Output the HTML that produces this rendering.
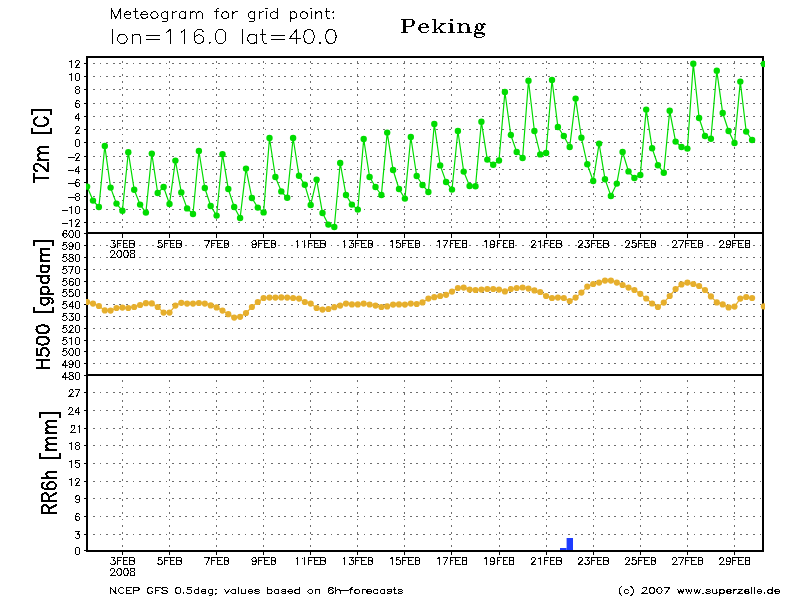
<!DOCTYPE html>
<html><head><meta charset="utf-8"><title>Meteogram Peking</title>
<style>html,body{margin:0;padding:0;background:#fff;font-family:"Liberation Sans",sans-serif}svg{display:block}</style></head>
<body>
<svg width="800" height="600" viewBox="0 0 800 600">
<rect width="800" height="600" fill="#fff"/>
<g stroke="#6e6e6e" stroke-width="1" stroke-dasharray="1.7 4.9" fill="none" shape-rendering="crispEdges">
<line x1="93" x2="762" y1="222.5" y2="222.5"/>
<line x1="93" x2="762" y1="209.5" y2="209.5"/>
<line x1="93" x2="762" y1="196.5" y2="196.5"/>
<line x1="93" x2="762" y1="182.5" y2="182.5"/>
<line x1="93" x2="762" y1="169.5" y2="169.5"/>
<line x1="93" x2="762" y1="156.5" y2="156.5"/>
<line x1="93" x2="762" y1="142.5" y2="142.5"/>
<line x1="93" x2="762" y1="129.5" y2="129.5"/>
<line x1="93" x2="762" y1="116.5" y2="116.5"/>
<line x1="93" x2="762" y1="103.5" y2="103.5"/>
<line x1="93" x2="762" y1="89.5" y2="89.5"/>
<line x1="93" x2="762" y1="76.5" y2="76.5"/>
<line x1="93" x2="762" y1="63.5" y2="63.5"/>
<line x1="93" x2="762" y1="363.5" y2="363.5"/>
<line x1="93" x2="762" y1="351.5" y2="351.5"/>
<line x1="93" x2="762" y1="340.5" y2="340.5"/>
<line x1="93" x2="762" y1="328.5" y2="328.5"/>
<line x1="93" x2="762" y1="316.5" y2="316.5"/>
<line x1="93" x2="762" y1="304.5" y2="304.5"/>
<line x1="93" x2="762" y1="292.5" y2="292.5"/>
<line x1="93" x2="762" y1="281.5" y2="281.5"/>
<line x1="93" x2="762" y1="269.5" y2="269.5"/>
<line x1="93" x2="762" y1="257.5" y2="257.5"/>
<line x1="93" x2="762" y1="245.5" y2="245.5"/>
<line x1="93" x2="762" y1="534.5" y2="534.5"/>
<line x1="93" x2="762" y1="516.5" y2="516.5"/>
<line x1="93" x2="762" y1="498.5" y2="498.5"/>
<line x1="93" x2="762" y1="481.5" y2="481.5"/>
<line x1="93" x2="762" y1="463.5" y2="463.5"/>
<line x1="93" x2="762" y1="445.5" y2="445.5"/>
<line x1="93" x2="762" y1="428.5" y2="428.5"/>
<line x1="93" x2="762" y1="410.5" y2="410.5"/>
<line x1="93" x2="762" y1="392.5" y2="392.5"/>
<line x1="122.5" x2="122.5" y1="61" y2="232"/>
<line x1="122.5" x2="122.5" y1="380" y2="549.5"/>
<line x1="169.5" x2="169.5" y1="61" y2="232"/>
<line x1="169.5" x2="169.5" y1="380" y2="549.5"/>
<line x1="216.5" x2="216.5" y1="61" y2="232"/>
<line x1="216.5" x2="216.5" y1="380" y2="549.5"/>
<line x1="263.5" x2="263.5" y1="61" y2="232"/>
<line x1="263.5" x2="263.5" y1="380" y2="549.5"/>
<line x1="310.5" x2="310.5" y1="61" y2="232"/>
<line x1="310.5" x2="310.5" y1="380" y2="549.5"/>
<line x1="357.5" x2="357.5" y1="61" y2="232"/>
<line x1="357.5" x2="357.5" y1="380" y2="549.5"/>
<line x1="404.5" x2="404.5" y1="61" y2="232"/>
<line x1="404.5" x2="404.5" y1="380" y2="549.5"/>
<line x1="451.5" x2="451.5" y1="61" y2="232"/>
<line x1="451.5" x2="451.5" y1="380" y2="549.5"/>
<line x1="499.5" x2="499.5" y1="61" y2="232"/>
<line x1="499.5" x2="499.5" y1="380" y2="549.5"/>
<line x1="546.5" x2="546.5" y1="61" y2="232"/>
<line x1="546.5" x2="546.5" y1="380" y2="549.5"/>
<line x1="593.5" x2="593.5" y1="61" y2="232"/>
<line x1="593.5" x2="593.5" y1="380" y2="549.5"/>
<line x1="640.5" x2="640.5" y1="61" y2="232"/>
<line x1="640.5" x2="640.5" y1="380" y2="549.5"/>
<line x1="687.5" x2="687.5" y1="61" y2="232"/>
<line x1="687.5" x2="687.5" y1="380" y2="549.5"/>
<line x1="734.5" x2="734.5" y1="61" y2="232"/>
<line x1="734.5" x2="734.5" y1="380" y2="549.5"/>
</g>
<rect x="560" y="548" width="6.6" height="2.5" fill="#1e3cff"/>
<rect x="566.6" y="538" width="6.4" height="12.5" fill="#1e3cff"/>
<g stroke="#000" stroke-width="2" fill="none" shape-rendering="crispEdges">
<rect x="87" y="57" width="676" height="493.5"/>
<line x1="87" x2="763" y1="233" y2="233"/>
<line x1="87" x2="763" y1="375" y2="375"/>
</g>
<clipPath id="cp"><rect x="86" y="56" width="679" height="496"/></clipPath>
<g clip-path="url(#cp)">
<polyline fill="none" stroke="#00dc00" stroke-width="1.2" points="87.1,186.6 93.0,200.6 98.9,207.0 104.8,146.0 110.6,187.6 116.5,203.6 122.4,210.8 128.3,152.2 134.2,189.8 140.1,204.6 145.9,212.6 151.8,153.6 157.7,193.0 163.6,187.0 169.5,204.0 175.4,160.6 181.3,192.4 187.1,208.4 193.0,214.0 198.9,151.0 204.8,188.0 210.7,206.0 216.6,215.6 222.5,154.2 228.3,189.0 234.2,207.0 240.1,218.0 246.0,168.6 251.9,198.0 257.8,207.6 263.6,212.4 269.5,138.0 275.4,177.0 281.3,191.4 287.2,197.8 293.1,138.0 299.0,175.8 304.8,184.8 310.7,205.0 316.6,179.6 322.5,213.0 328.4,224.6 334.3,227.0 340.2,163.0 346.0,195.0 351.9,204.6 357.8,209.6 363.7,139.0 369.6,177.0 375.5,187.0 381.4,195.0 387.2,132.6 393.1,170.0 399.0,189.0 404.9,198.6 410.8,137.0 416.7,176.0 422.5,185.0 428.4,192.0 434.3,124.0 440.2,165.4 446.1,182.0 452.0,189.6 457.9,131.0 463.7,171.6 469.6,186.0 475.5,186.2 481.4,121.8 487.3,159.6 493.2,164.8 499.0,160.5 504.9,92.0 510.8,135.0 516.7,152.0 522.6,158.0 528.5,80.8 534.4,131.0 540.2,154.4 546.1,153.0 552.0,80.0 557.9,127.0 563.8,136.0 569.7,147.0 575.6,98.6 581.4,137.8 587.3,164.3 593.2,181.0 599.1,143.6 605.0,179.2 610.9,196.0 616.8,183.6 622.6,152.0 628.5,171.4 634.4,178.0 640.3,175.0 646.2,109.6 652.1,148.2 657.9,165.2 663.8,172.8 669.7,110.8 675.6,141.6 681.5,147.0 687.4,148.6 693.3,63.8 699.1,118.0 705.0,136.0 710.9,138.8 716.8,70.8 722.7,113.0 728.6,131.0 734.5,143.0 740.3,81.6 746.2,131.6 752.1,140.0"/>
<g fill="#00dc00">
<circle cx="87.1" cy="186.6" r="3.2"/>
<circle cx="93.0" cy="200.6" r="3.2"/>
<circle cx="98.9" cy="207.0" r="3.2"/>
<circle cx="104.8" cy="146.0" r="3.2"/>
<circle cx="110.6" cy="187.6" r="3.2"/>
<circle cx="116.5" cy="203.6" r="3.2"/>
<circle cx="122.4" cy="210.8" r="3.2"/>
<circle cx="128.3" cy="152.2" r="3.2"/>
<circle cx="134.2" cy="189.8" r="3.2"/>
<circle cx="140.1" cy="204.6" r="3.2"/>
<circle cx="145.9" cy="212.6" r="3.2"/>
<circle cx="151.8" cy="153.6" r="3.2"/>
<circle cx="157.7" cy="193.0" r="3.2"/>
<circle cx="163.6" cy="187.0" r="3.2"/>
<circle cx="169.5" cy="204.0" r="3.2"/>
<circle cx="175.4" cy="160.6" r="3.2"/>
<circle cx="181.3" cy="192.4" r="3.2"/>
<circle cx="187.1" cy="208.4" r="3.2"/>
<circle cx="193.0" cy="214.0" r="3.2"/>
<circle cx="198.9" cy="151.0" r="3.2"/>
<circle cx="204.8" cy="188.0" r="3.2"/>
<circle cx="210.7" cy="206.0" r="3.2"/>
<circle cx="216.6" cy="215.6" r="3.2"/>
<circle cx="222.5" cy="154.2" r="3.2"/>
<circle cx="228.3" cy="189.0" r="3.2"/>
<circle cx="234.2" cy="207.0" r="3.2"/>
<circle cx="240.1" cy="218.0" r="3.2"/>
<circle cx="246.0" cy="168.6" r="3.2"/>
<circle cx="251.9" cy="198.0" r="3.2"/>
<circle cx="257.8" cy="207.6" r="3.2"/>
<circle cx="263.6" cy="212.4" r="3.2"/>
<circle cx="269.5" cy="138.0" r="3.2"/>
<circle cx="275.4" cy="177.0" r="3.2"/>
<circle cx="281.3" cy="191.4" r="3.2"/>
<circle cx="287.2" cy="197.8" r="3.2"/>
<circle cx="293.1" cy="138.0" r="3.2"/>
<circle cx="299.0" cy="175.8" r="3.2"/>
<circle cx="304.8" cy="184.8" r="3.2"/>
<circle cx="310.7" cy="205.0" r="3.2"/>
<circle cx="316.6" cy="179.6" r="3.2"/>
<circle cx="322.5" cy="213.0" r="3.2"/>
<circle cx="328.4" cy="224.6" r="3.2"/>
<circle cx="334.3" cy="227.0" r="3.2"/>
<circle cx="340.2" cy="163.0" r="3.2"/>
<circle cx="346.0" cy="195.0" r="3.2"/>
<circle cx="351.9" cy="204.6" r="3.2"/>
<circle cx="357.8" cy="209.6" r="3.2"/>
<circle cx="363.7" cy="139.0" r="3.2"/>
<circle cx="369.6" cy="177.0" r="3.2"/>
<circle cx="375.5" cy="187.0" r="3.2"/>
<circle cx="381.4" cy="195.0" r="3.2"/>
<circle cx="387.2" cy="132.6" r="3.2"/>
<circle cx="393.1" cy="170.0" r="3.2"/>
<circle cx="399.0" cy="189.0" r="3.2"/>
<circle cx="404.9" cy="198.6" r="3.2"/>
<circle cx="410.8" cy="137.0" r="3.2"/>
<circle cx="416.7" cy="176.0" r="3.2"/>
<circle cx="422.5" cy="185.0" r="3.2"/>
<circle cx="428.4" cy="192.0" r="3.2"/>
<circle cx="434.3" cy="124.0" r="3.2"/>
<circle cx="440.2" cy="165.4" r="3.2"/>
<circle cx="446.1" cy="182.0" r="3.2"/>
<circle cx="452.0" cy="189.6" r="3.2"/>
<circle cx="457.9" cy="131.0" r="3.2"/>
<circle cx="463.7" cy="171.6" r="3.2"/>
<circle cx="469.6" cy="186.0" r="3.2"/>
<circle cx="475.5" cy="186.2" r="3.2"/>
<circle cx="481.4" cy="121.8" r="3.2"/>
<circle cx="487.3" cy="159.6" r="3.2"/>
<circle cx="493.2" cy="164.8" r="3.2"/>
<circle cx="499.0" cy="160.5" r="3.2"/>
<circle cx="504.9" cy="92.0" r="3.2"/>
<circle cx="510.8" cy="135.0" r="3.2"/>
<circle cx="516.7" cy="152.0" r="3.2"/>
<circle cx="522.6" cy="158.0" r="3.2"/>
<circle cx="528.5" cy="80.8" r="3.2"/>
<circle cx="534.4" cy="131.0" r="3.2"/>
<circle cx="540.2" cy="154.4" r="3.2"/>
<circle cx="546.1" cy="153.0" r="3.2"/>
<circle cx="552.0" cy="80.0" r="3.2"/>
<circle cx="557.9" cy="127.0" r="3.2"/>
<circle cx="563.8" cy="136.0" r="3.2"/>
<circle cx="569.7" cy="147.0" r="3.2"/>
<circle cx="575.6" cy="98.6" r="3.2"/>
<circle cx="581.4" cy="137.8" r="3.2"/>
<circle cx="587.3" cy="164.3" r="3.2"/>
<circle cx="593.2" cy="181.0" r="3.2"/>
<circle cx="599.1" cy="143.6" r="3.2"/>
<circle cx="605.0" cy="179.2" r="3.2"/>
<circle cx="610.9" cy="196.0" r="3.2"/>
<circle cx="616.8" cy="183.6" r="3.2"/>
<circle cx="622.6" cy="152.0" r="3.2"/>
<circle cx="628.5" cy="171.4" r="3.2"/>
<circle cx="634.4" cy="178.0" r="3.2"/>
<circle cx="640.3" cy="175.0" r="3.2"/>
<circle cx="646.2" cy="109.6" r="3.2"/>
<circle cx="652.1" cy="148.2" r="3.2"/>
<circle cx="657.9" cy="165.2" r="3.2"/>
<circle cx="663.8" cy="172.8" r="3.2"/>
<circle cx="669.7" cy="110.8" r="3.2"/>
<circle cx="675.6" cy="141.6" r="3.2"/>
<circle cx="681.5" cy="147.0" r="3.2"/>
<circle cx="687.4" cy="148.6" r="3.2"/>
<circle cx="693.3" cy="63.8" r="3.2"/>
<circle cx="699.1" cy="118.0" r="3.2"/>
<circle cx="705.0" cy="136.0" r="3.2"/>
<circle cx="710.9" cy="138.8" r="3.2"/>
<circle cx="716.8" cy="70.8" r="3.2"/>
<circle cx="722.7" cy="113.0" r="3.2"/>
<circle cx="728.6" cy="131.0" r="3.2"/>
<circle cx="734.5" cy="143.0" r="3.2"/>
<circle cx="740.3" cy="81.6" r="3.2"/>
<circle cx="746.2" cy="131.6" r="3.2"/>
<circle cx="752.1" cy="140.0" r="3.2"/>
<circle cx="763.9" cy="64.0" r="3.2"/>
</g>
<polyline fill="none" stroke="#e6af2d" stroke-width="1.2" points="87.1,302.0 93.0,303.6 98.9,306.0 104.8,310.4 110.6,310.6 116.5,308.0 122.4,307.6 128.3,308.0 134.2,307.0 140.1,305.0 145.9,303.2 151.8,303.4 157.7,307.0 163.6,312.6 169.5,312.6 175.4,305.6 181.3,302.8 187.1,303.6 193.0,303.6 198.9,303.0 204.8,303.6 210.7,305.4 216.6,307.4 222.5,310.6 228.3,314.2 234.2,317.6 240.1,316.8 246.0,313.0 251.9,307.0 257.8,302.0 263.6,298.0 269.5,297.6 275.4,297.6 281.3,297.4 287.2,297.6 293.1,298.0 299.0,298.6 304.8,302.0 310.7,303.6 316.6,308.0 322.5,309.6 328.4,309.0 334.3,307.2 340.2,305.6 346.0,303.6 351.9,304.4 357.8,304.4 363.7,303.6 369.6,304.5 375.5,305.6 381.4,307.0 387.2,306.4 393.1,304.6 399.0,304.4 404.9,304.6 410.8,303.6 416.7,304.0 422.5,302.4 428.4,298.6 434.3,297.2 440.2,296.0 446.1,294.8 452.0,291.6 457.9,288.0 463.7,287.6 469.6,289.6 475.5,290.0 481.4,289.6 487.3,289.0 493.2,289.0 499.0,289.6 504.9,291.4 510.8,289.0 516.7,288.0 522.6,287.5 528.5,288.6 534.4,290.4 540.2,292.0 546.1,296.0 552.0,298.0 557.9,297.6 563.8,298.0 569.7,301.0 575.6,297.6 581.4,292.6 587.3,286.6 593.2,284.0 599.1,282.6 605.0,280.6 610.9,280.6 616.8,282.6 622.6,285.0 628.5,287.6 634.4,290.0 640.3,293.8 646.2,298.5 652.1,303.5 657.9,307.0 663.8,302.6 669.7,296.0 675.6,289.0 681.5,284.4 687.4,282.6 693.3,284.0 699.1,286.0 705.0,290.0 710.9,296.4 716.8,302.4 722.7,304.4 728.6,307.4 734.5,306.6 740.3,298.6 746.2,297.0 752.1,298.0"/>
<g fill="#e6af2d">
<circle cx="87.1" cy="302.0" r="3.1"/>
<circle cx="93.0" cy="303.6" r="3.1"/>
<circle cx="98.9" cy="306.0" r="3.1"/>
<circle cx="104.8" cy="310.4" r="3.1"/>
<circle cx="110.6" cy="310.6" r="3.1"/>
<circle cx="116.5" cy="308.0" r="3.1"/>
<circle cx="122.4" cy="307.6" r="3.1"/>
<circle cx="128.3" cy="308.0" r="3.1"/>
<circle cx="134.2" cy="307.0" r="3.1"/>
<circle cx="140.1" cy="305.0" r="3.1"/>
<circle cx="145.9" cy="303.2" r="3.1"/>
<circle cx="151.8" cy="303.4" r="3.1"/>
<circle cx="157.7" cy="307.0" r="3.1"/>
<circle cx="163.6" cy="312.6" r="3.1"/>
<circle cx="169.5" cy="312.6" r="3.1"/>
<circle cx="175.4" cy="305.6" r="3.1"/>
<circle cx="181.3" cy="302.8" r="3.1"/>
<circle cx="187.1" cy="303.6" r="3.1"/>
<circle cx="193.0" cy="303.6" r="3.1"/>
<circle cx="198.9" cy="303.0" r="3.1"/>
<circle cx="204.8" cy="303.6" r="3.1"/>
<circle cx="210.7" cy="305.4" r="3.1"/>
<circle cx="216.6" cy="307.4" r="3.1"/>
<circle cx="222.5" cy="310.6" r="3.1"/>
<circle cx="228.3" cy="314.2" r="3.1"/>
<circle cx="234.2" cy="317.6" r="3.1"/>
<circle cx="240.1" cy="316.8" r="3.1"/>
<circle cx="246.0" cy="313.0" r="3.1"/>
<circle cx="251.9" cy="307.0" r="3.1"/>
<circle cx="257.8" cy="302.0" r="3.1"/>
<circle cx="263.6" cy="298.0" r="3.1"/>
<circle cx="269.5" cy="297.6" r="3.1"/>
<circle cx="275.4" cy="297.6" r="3.1"/>
<circle cx="281.3" cy="297.4" r="3.1"/>
<circle cx="287.2" cy="297.6" r="3.1"/>
<circle cx="293.1" cy="298.0" r="3.1"/>
<circle cx="299.0" cy="298.6" r="3.1"/>
<circle cx="304.8" cy="302.0" r="3.1"/>
<circle cx="310.7" cy="303.6" r="3.1"/>
<circle cx="316.6" cy="308.0" r="3.1"/>
<circle cx="322.5" cy="309.6" r="3.1"/>
<circle cx="328.4" cy="309.0" r="3.1"/>
<circle cx="334.3" cy="307.2" r="3.1"/>
<circle cx="340.2" cy="305.6" r="3.1"/>
<circle cx="346.0" cy="303.6" r="3.1"/>
<circle cx="351.9" cy="304.4" r="3.1"/>
<circle cx="357.8" cy="304.4" r="3.1"/>
<circle cx="363.7" cy="303.6" r="3.1"/>
<circle cx="369.6" cy="304.5" r="3.1"/>
<circle cx="375.5" cy="305.6" r="3.1"/>
<circle cx="381.4" cy="307.0" r="3.1"/>
<circle cx="387.2" cy="306.4" r="3.1"/>
<circle cx="393.1" cy="304.6" r="3.1"/>
<circle cx="399.0" cy="304.4" r="3.1"/>
<circle cx="404.9" cy="304.6" r="3.1"/>
<circle cx="410.8" cy="303.6" r="3.1"/>
<circle cx="416.7" cy="304.0" r="3.1"/>
<circle cx="422.5" cy="302.4" r="3.1"/>
<circle cx="428.4" cy="298.6" r="3.1"/>
<circle cx="434.3" cy="297.2" r="3.1"/>
<circle cx="440.2" cy="296.0" r="3.1"/>
<circle cx="446.1" cy="294.8" r="3.1"/>
<circle cx="452.0" cy="291.6" r="3.1"/>
<circle cx="457.9" cy="288.0" r="3.1"/>
<circle cx="463.7" cy="287.6" r="3.1"/>
<circle cx="469.6" cy="289.6" r="3.1"/>
<circle cx="475.5" cy="290.0" r="3.1"/>
<circle cx="481.4" cy="289.6" r="3.1"/>
<circle cx="487.3" cy="289.0" r="3.1"/>
<circle cx="493.2" cy="289.0" r="3.1"/>
<circle cx="499.0" cy="289.6" r="3.1"/>
<circle cx="504.9" cy="291.4" r="3.1"/>
<circle cx="510.8" cy="289.0" r="3.1"/>
<circle cx="516.7" cy="288.0" r="3.1"/>
<circle cx="522.6" cy="287.5" r="3.1"/>
<circle cx="528.5" cy="288.6" r="3.1"/>
<circle cx="534.4" cy="290.4" r="3.1"/>
<circle cx="540.2" cy="292.0" r="3.1"/>
<circle cx="546.1" cy="296.0" r="3.1"/>
<circle cx="552.0" cy="298.0" r="3.1"/>
<circle cx="557.9" cy="297.6" r="3.1"/>
<circle cx="563.8" cy="298.0" r="3.1"/>
<circle cx="569.7" cy="301.0" r="3.1"/>
<circle cx="575.6" cy="297.6" r="3.1"/>
<circle cx="581.4" cy="292.6" r="3.1"/>
<circle cx="587.3" cy="286.6" r="3.1"/>
<circle cx="593.2" cy="284.0" r="3.1"/>
<circle cx="599.1" cy="282.6" r="3.1"/>
<circle cx="605.0" cy="280.6" r="3.1"/>
<circle cx="610.9" cy="280.6" r="3.1"/>
<circle cx="616.8" cy="282.6" r="3.1"/>
<circle cx="622.6" cy="285.0" r="3.1"/>
<circle cx="628.5" cy="287.6" r="3.1"/>
<circle cx="634.4" cy="290.0" r="3.1"/>
<circle cx="640.3" cy="293.8" r="3.1"/>
<circle cx="646.2" cy="298.5" r="3.1"/>
<circle cx="652.1" cy="303.5" r="3.1"/>
<circle cx="657.9" cy="307.0" r="3.1"/>
<circle cx="663.8" cy="302.6" r="3.1"/>
<circle cx="669.7" cy="296.0" r="3.1"/>
<circle cx="675.6" cy="289.0" r="3.1"/>
<circle cx="681.5" cy="284.4" r="3.1"/>
<circle cx="687.4" cy="282.6" r="3.1"/>
<circle cx="693.3" cy="284.0" r="3.1"/>
<circle cx="699.1" cy="286.0" r="3.1"/>
<circle cx="705.0" cy="290.0" r="3.1"/>
<circle cx="710.9" cy="296.4" r="3.1"/>
<circle cx="716.8" cy="302.4" r="3.1"/>
<circle cx="722.7" cy="304.4" r="3.1"/>
<circle cx="728.6" cy="307.4" r="3.1"/>
<circle cx="734.5" cy="306.6" r="3.1"/>
<circle cx="740.3" cy="298.6" r="3.1"/>
<circle cx="746.2" cy="297.0" r="3.1"/>
<circle cx="752.1" cy="298.0" r="3.1"/>
<circle cx="763.9" cy="306.4" r="3.1"/>
</g>
</g>
<g stroke="#000" stroke-width="1" shape-rendering="crispEdges">
<line x1="84" x2="86" y1="222.5" y2="222.5"/>
<line x1="84" x2="86" y1="209.5" y2="209.5"/>
<line x1="84" x2="86" y1="196.5" y2="196.5"/>
<line x1="84" x2="86" y1="182.5" y2="182.5"/>
<line x1="84" x2="86" y1="169.5" y2="169.5"/>
<line x1="84" x2="86" y1="156.5" y2="156.5"/>
<line x1="84" x2="86" y1="142.5" y2="142.5"/>
<line x1="84" x2="86" y1="129.5" y2="129.5"/>
<line x1="84" x2="86" y1="116.5" y2="116.5"/>
<line x1="84" x2="86" y1="103.5" y2="103.5"/>
<line x1="84" x2="86" y1="89.5" y2="89.5"/>
<line x1="84" x2="86" y1="76.5" y2="76.5"/>
<line x1="84" x2="86" y1="63.5" y2="63.5"/>
<line x1="84" x2="86" y1="375.5" y2="375.5"/>
<line x1="84" x2="86" y1="363.5" y2="363.5"/>
<line x1="84" x2="86" y1="351.5" y2="351.5"/>
<line x1="84" x2="86" y1="340.5" y2="340.5"/>
<line x1="84" x2="86" y1="328.5" y2="328.5"/>
<line x1="84" x2="86" y1="316.5" y2="316.5"/>
<line x1="84" x2="86" y1="304.5" y2="304.5"/>
<line x1="84" x2="86" y1="292.5" y2="292.5"/>
<line x1="84" x2="86" y1="281.5" y2="281.5"/>
<line x1="84" x2="86" y1="269.5" y2="269.5"/>
<line x1="84" x2="86" y1="257.5" y2="257.5"/>
<line x1="84" x2="86" y1="245.5" y2="245.5"/>
<line x1="84" x2="86" y1="233.5" y2="233.5"/>
<line x1="84" x2="86" y1="550.5" y2="550.5"/>
<line x1="84" x2="86" y1="534.5" y2="534.5"/>
<line x1="84" x2="86" y1="516.5" y2="516.5"/>
<line x1="84" x2="86" y1="498.5" y2="498.5"/>
<line x1="84" x2="86" y1="481.5" y2="481.5"/>
<line x1="84" x2="86" y1="463.5" y2="463.5"/>
<line x1="84" x2="86" y1="445.5" y2="445.5"/>
<line x1="84" x2="86" y1="428.5" y2="428.5"/>
<line x1="84" x2="86" y1="410.5" y2="410.5"/>
<line x1="84" x2="86" y1="392.5" y2="392.5"/>
<line x1="122.5" x2="122.5" y1="234" y2="238"/>
<line x1="122.5" x2="122.5" y1="551.5" y2="555.0"/>
<line x1="169.5" x2="169.5" y1="234" y2="238"/>
<line x1="169.5" x2="169.5" y1="551.5" y2="555.0"/>
<line x1="216.5" x2="216.5" y1="234" y2="238"/>
<line x1="216.5" x2="216.5" y1="551.5" y2="555.0"/>
<line x1="263.5" x2="263.5" y1="234" y2="238"/>
<line x1="263.5" x2="263.5" y1="551.5" y2="555.0"/>
<line x1="310.5" x2="310.5" y1="234" y2="238"/>
<line x1="310.5" x2="310.5" y1="551.5" y2="555.0"/>
<line x1="357.5" x2="357.5" y1="234" y2="238"/>
<line x1="357.5" x2="357.5" y1="551.5" y2="555.0"/>
<line x1="404.5" x2="404.5" y1="234" y2="238"/>
<line x1="404.5" x2="404.5" y1="551.5" y2="555.0"/>
<line x1="451.5" x2="451.5" y1="234" y2="238"/>
<line x1="451.5" x2="451.5" y1="551.5" y2="555.0"/>
<line x1="499.5" x2="499.5" y1="234" y2="238"/>
<line x1="499.5" x2="499.5" y1="551.5" y2="555.0"/>
<line x1="546.5" x2="546.5" y1="234" y2="238"/>
<line x1="546.5" x2="546.5" y1="551.5" y2="555.0"/>
<line x1="593.5" x2="593.5" y1="234" y2="238"/>
<line x1="593.5" x2="593.5" y1="551.5" y2="555.0"/>
<line x1="640.5" x2="640.5" y1="234" y2="238"/>
<line x1="640.5" x2="640.5" y1="551.5" y2="555.0"/>
<line x1="687.5" x2="687.5" y1="234" y2="238"/>
<line x1="687.5" x2="687.5" y1="551.5" y2="555.0"/>
<line x1="734.5" x2="734.5" y1="234" y2="238"/>
<line x1="734.5" x2="734.5" y1="551.5" y2="555.0"/>
</g>
<path transform="translate(79.70,226.50) translate(-18.01,0)" d="M0.32 -3.00L6.00 -3.00M8.22 -5.67L8.85 -6.00L9.80 -7.00L9.80 0.00M13.90 -5.33L13.90 -5.67L14.22 -6.33L14.54 -6.67L15.17 -7.00L16.43 -7.00L17.06 -6.67L17.38 -6.33L17.70 -5.67L17.70 -5.00L17.38 -4.33L16.75 -3.33L13.59 0.00L18.01 0.00" fill="none" stroke="#000" stroke-width="1.0" stroke-linecap="square" stroke-linejoin="round" shape-rendering="crispEdges" />
<path transform="translate(79.70,213.50) translate(-18.01,0)" d="M0.32 -3.00L6.00 -3.00M8.22 -5.67L8.85 -6.00L9.80 -7.00L9.80 0.00M15.48 -7.00L14.54 -6.67L13.90 -5.67L13.59 -4.00L13.59 -3.00L13.90 -1.33L14.54 -0.33L15.48 0.00L16.12 0.00L17.06 -0.33L17.70 -1.33L18.01 -3.00L18.01 -4.00L17.70 -5.67L17.06 -6.67L16.12 -7.00L15.48 -7.00" fill="none" stroke="#000" stroke-width="1.0" stroke-linecap="square" stroke-linejoin="round" shape-rendering="crispEdges" />
<path transform="translate(79.70,200.50) translate(-11.69,0)" d="M0.32 -3.00L6.00 -3.00M8.85 -7.00L7.90 -6.67L7.58 -6.00L7.58 -5.33L7.90 -4.67L8.53 -4.33L9.80 -4.00L10.74 -3.67L11.38 -3.00L11.69 -2.33L11.69 -1.33L11.38 -0.67L11.06 -0.33L10.11 0.00L8.85 0.00L7.90 -0.33L7.58 -0.67L7.27 -1.33L7.27 -2.33L7.58 -3.00L8.22 -3.67L9.16 -4.00L10.43 -4.33L11.06 -4.67L11.38 -5.33L11.38 -6.00L11.06 -6.67L10.11 -7.00L8.85 -7.00" fill="none" stroke="#000" stroke-width="1.0" stroke-linecap="square" stroke-linejoin="round" shape-rendering="crispEdges" />
<path transform="translate(79.70,186.50) translate(-11.69,0)" d="M0.32 -3.00L6.00 -3.00M11.38 -6.00L11.06 -6.67L10.11 -7.00L9.48 -7.00L8.53 -6.67L7.90 -5.67L7.58 -4.00L7.58 -2.33L7.90 -1.00L8.53 -0.33L9.48 0.00L9.80 0.00L10.74 -0.33L11.38 -1.00L11.69 -2.00L11.69 -2.33L11.38 -3.33L10.74 -4.00L9.80 -4.33L9.48 -4.33L8.53 -4.00L7.90 -3.33L7.58 -2.33" fill="none" stroke="#000" stroke-width="1.0" stroke-linecap="square" stroke-linejoin="round" shape-rendering="crispEdges" />
<path transform="translate(79.70,173.50) translate(-12.01,0)" d="M0.32 -3.00L6.00 -3.00M10.43 -7.00L7.27 -2.33L12.01 -2.33M10.43 -7.00L10.43 0.00" fill="none" stroke="#000" stroke-width="1.0" stroke-linecap="square" stroke-linejoin="round" shape-rendering="crispEdges" />
<path transform="translate(79.70,160.50) translate(-11.69,0)" d="M0.32 -3.00L6.00 -3.00M7.58 -5.33L7.58 -5.67L7.90 -6.33L8.22 -6.67L8.85 -7.00L10.11 -7.00L10.74 -6.67L11.06 -6.33L11.38 -5.67L11.38 -5.00L11.06 -4.33L10.43 -3.33L7.27 0.00L11.69 0.00" fill="none" stroke="#000" stroke-width="1.0" stroke-linecap="square" stroke-linejoin="round" shape-rendering="crispEdges" />
<path transform="translate(79.70,146.50) translate(-5.37,0)" d="M2.84 -7.00L1.90 -6.67L1.26 -5.67L0.95 -4.00L0.95 -3.00L1.26 -1.33L1.90 -0.33L2.84 0.00L3.48 0.00L4.42 -0.33L5.06 -1.33L5.37 -3.00L5.37 -4.00L5.06 -5.67L4.42 -6.67L3.48 -7.00L2.84 -7.00" fill="none" stroke="#000" stroke-width="1.0" stroke-linecap="square" stroke-linejoin="round" shape-rendering="crispEdges" />
<path transform="translate(79.70,133.50) translate(-5.37,0)" d="M1.26 -5.33L1.26 -5.67L1.58 -6.33L1.90 -6.67L2.53 -7.00L3.79 -7.00L4.42 -6.67L4.74 -6.33L5.06 -5.67L5.06 -5.00L4.74 -4.33L4.11 -3.33L0.95 0.00L5.37 0.00" fill="none" stroke="#000" stroke-width="1.0" stroke-linecap="square" stroke-linejoin="round" shape-rendering="crispEdges" />
<path transform="translate(79.70,120.50) translate(-5.69,0)" d="M4.11 -7.00L0.95 -2.33L5.69 -2.33M4.11 -7.00L4.11 0.00" fill="none" stroke="#000" stroke-width="1.0" stroke-linecap="square" stroke-linejoin="round" shape-rendering="crispEdges" />
<path transform="translate(79.70,107.50) translate(-5.37,0)" d="M5.06 -6.00L4.74 -6.67L3.79 -7.00L3.16 -7.00L2.21 -6.67L1.58 -5.67L1.26 -4.00L1.26 -2.33L1.58 -1.00L2.21 -0.33L3.16 0.00L3.48 0.00L4.42 -0.33L5.06 -1.00L5.37 -2.00L5.37 -2.33L5.06 -3.33L4.42 -4.00L3.48 -4.33L3.16 -4.33L2.21 -4.00L1.58 -3.33L1.26 -2.33" fill="none" stroke="#000" stroke-width="1.0" stroke-linecap="square" stroke-linejoin="round" shape-rendering="crispEdges" />
<path transform="translate(79.70,93.50) translate(-5.37,0)" d="M2.53 -7.00L1.58 -6.67L1.26 -6.00L1.26 -5.33L1.58 -4.67L2.21 -4.33L3.48 -4.00L4.42 -3.67L5.06 -3.00L5.37 -2.33L5.37 -1.33L5.06 -0.67L4.74 -0.33L3.79 0.00L2.53 0.00L1.58 -0.33L1.26 -0.67L0.95 -1.33L0.95 -2.33L1.26 -3.00L1.90 -3.67L2.84 -4.00L4.11 -4.33L4.74 -4.67L5.06 -5.33L5.06 -6.00L4.74 -6.67L3.79 -7.00L2.53 -7.00" fill="none" stroke="#000" stroke-width="1.0" stroke-linecap="square" stroke-linejoin="round" shape-rendering="crispEdges" />
<path transform="translate(79.70,80.50) translate(-11.69,0)" d="M1.90 -5.67L2.53 -6.00L3.48 -7.00L3.48 0.00M9.16 -7.00L8.22 -6.67L7.58 -5.67L7.27 -4.00L7.27 -3.00L7.58 -1.33L8.22 -0.33L9.16 0.00L9.80 0.00L10.74 -0.33L11.38 -1.33L11.69 -3.00L11.69 -4.00L11.38 -5.67L10.74 -6.67L9.80 -7.00L9.16 -7.00" fill="none" stroke="#000" stroke-width="1.0" stroke-linecap="square" stroke-linejoin="round" shape-rendering="crispEdges" />
<path transform="translate(79.70,67.50) translate(-11.69,0)" d="M1.90 -5.67L2.53 -6.00L3.48 -7.00L3.48 0.00M7.58 -5.33L7.58 -5.67L7.90 -6.33L8.22 -6.67L8.85 -7.00L10.11 -7.00L10.74 -6.67L11.06 -6.33L11.38 -5.67L11.38 -5.00L11.06 -4.33L10.43 -3.33L7.27 0.00L11.69 0.00" fill="none" stroke="#000" stroke-width="1.0" stroke-linecap="square" stroke-linejoin="round" shape-rendering="crispEdges" />
<path transform="translate(79.70,379.50) translate(-18.01,0)" d="M4.11 -7.00L0.95 -2.33L5.69 -2.33M4.11 -7.00L4.11 0.00M8.85 -7.00L7.90 -6.67L7.58 -6.00L7.58 -5.33L7.90 -4.67L8.53 -4.33L9.80 -4.00L10.74 -3.67L11.38 -3.00L11.69 -2.33L11.69 -1.33L11.38 -0.67L11.06 -0.33L10.11 0.00L8.85 0.00L7.90 -0.33L7.58 -0.67L7.27 -1.33L7.27 -2.33L7.58 -3.00L8.22 -3.67L9.16 -4.00L10.43 -4.33L11.06 -4.67L11.38 -5.33L11.38 -6.00L11.06 -6.67L10.11 -7.00L8.85 -7.00M15.48 -7.00L14.54 -6.67L13.90 -5.67L13.59 -4.00L13.59 -3.00L13.90 -1.33L14.54 -0.33L15.48 0.00L16.12 0.00L17.06 -0.33L17.70 -1.33L18.01 -3.00L18.01 -4.00L17.70 -5.67L17.06 -6.67L16.12 -7.00L15.48 -7.00" fill="none" stroke="#000" stroke-width="1.0" stroke-linecap="square" stroke-linejoin="round" shape-rendering="crispEdges" />
<path transform="translate(79.70,367.50) translate(-18.01,0)" d="M4.11 -7.00L0.95 -2.33L5.69 -2.33M4.11 -7.00L4.11 0.00M11.38 -4.67L11.06 -3.67L10.43 -3.00L9.48 -2.67L9.16 -2.67L8.22 -3.00L7.58 -3.67L7.27 -4.67L7.27 -5.00L7.58 -6.00L8.22 -6.67L9.16 -7.00L9.48 -7.00L10.43 -6.67L11.06 -6.00L11.38 -4.67L11.38 -3.00L11.06 -1.33L10.43 -0.33L9.48 0.00L8.85 0.00L7.90 -0.33L7.58 -1.00M15.48 -7.00L14.54 -6.67L13.90 -5.67L13.59 -4.00L13.59 -3.00L13.90 -1.33L14.54 -0.33L15.48 0.00L16.12 0.00L17.06 -0.33L17.70 -1.33L18.01 -3.00L18.01 -4.00L17.70 -5.67L17.06 -6.67L16.12 -7.00L15.48 -7.00" fill="none" stroke="#000" stroke-width="1.0" stroke-linecap="square" stroke-linejoin="round" shape-rendering="crispEdges" />
<path transform="translate(79.70,355.50) translate(-18.01,0)" d="M4.74 -7.00L1.58 -7.00L1.26 -4.00L1.58 -4.33L2.53 -4.67L3.48 -4.67L4.42 -4.33L5.06 -3.67L5.37 -2.67L5.37 -2.00L5.06 -1.00L4.42 -0.33L3.48 0.00L2.53 0.00L1.58 -0.33L1.26 -0.67L0.95 -1.33M9.16 -7.00L8.22 -6.67L7.58 -5.67L7.27 -4.00L7.27 -3.00L7.58 -1.33L8.22 -0.33L9.16 0.00L9.80 0.00L10.74 -0.33L11.38 -1.33L11.69 -3.00L11.69 -4.00L11.38 -5.67L10.74 -6.67L9.80 -7.00L9.16 -7.00M15.48 -7.00L14.54 -6.67L13.90 -5.67L13.59 -4.00L13.59 -3.00L13.90 -1.33L14.54 -0.33L15.48 0.00L16.12 0.00L17.06 -0.33L17.70 -1.33L18.01 -3.00L18.01 -4.00L17.70 -5.67L17.06 -6.67L16.12 -7.00L15.48 -7.00" fill="none" stroke="#000" stroke-width="1.0" stroke-linecap="square" stroke-linejoin="round" shape-rendering="crispEdges" />
<path transform="translate(79.70,344.50) translate(-18.01,0)" d="M4.74 -7.00L1.58 -7.00L1.26 -4.00L1.58 -4.33L2.53 -4.67L3.48 -4.67L4.42 -4.33L5.06 -3.67L5.37 -2.67L5.37 -2.00L5.06 -1.00L4.42 -0.33L3.48 0.00L2.53 0.00L1.58 -0.33L1.26 -0.67L0.95 -1.33M8.22 -5.67L8.85 -6.00L9.80 -7.00L9.80 0.00M15.48 -7.00L14.54 -6.67L13.90 -5.67L13.59 -4.00L13.59 -3.00L13.90 -1.33L14.54 -0.33L15.48 0.00L16.12 0.00L17.06 -0.33L17.70 -1.33L18.01 -3.00L18.01 -4.00L17.70 -5.67L17.06 -6.67L16.12 -7.00L15.48 -7.00" fill="none" stroke="#000" stroke-width="1.0" stroke-linecap="square" stroke-linejoin="round" shape-rendering="crispEdges" />
<path transform="translate(79.70,332.50) translate(-18.01,0)" d="M4.74 -7.00L1.58 -7.00L1.26 -4.00L1.58 -4.33L2.53 -4.67L3.48 -4.67L4.42 -4.33L5.06 -3.67L5.37 -2.67L5.37 -2.00L5.06 -1.00L4.42 -0.33L3.48 0.00L2.53 0.00L1.58 -0.33L1.26 -0.67L0.95 -1.33M7.58 -5.33L7.58 -5.67L7.90 -6.33L8.22 -6.67L8.85 -7.00L10.11 -7.00L10.74 -6.67L11.06 -6.33L11.38 -5.67L11.38 -5.00L11.06 -4.33L10.43 -3.33L7.27 0.00L11.69 0.00M15.48 -7.00L14.54 -6.67L13.90 -5.67L13.59 -4.00L13.59 -3.00L13.90 -1.33L14.54 -0.33L15.48 0.00L16.12 0.00L17.06 -0.33L17.70 -1.33L18.01 -3.00L18.01 -4.00L17.70 -5.67L17.06 -6.67L16.12 -7.00L15.48 -7.00" fill="none" stroke="#000" stroke-width="1.0" stroke-linecap="square" stroke-linejoin="round" shape-rendering="crispEdges" />
<path transform="translate(79.70,320.50) translate(-18.01,0)" d="M4.74 -7.00L1.58 -7.00L1.26 -4.00L1.58 -4.33L2.53 -4.67L3.48 -4.67L4.42 -4.33L5.06 -3.67L5.37 -2.67L5.37 -2.00L5.06 -1.00L4.42 -0.33L3.48 0.00L2.53 0.00L1.58 -0.33L1.26 -0.67L0.95 -1.33M7.90 -7.00L11.38 -7.00L9.48 -4.33L10.43 -4.33L11.06 -4.00L11.38 -3.67L11.69 -2.67L11.69 -2.00L11.38 -1.00L10.74 -0.33L9.80 0.00L8.85 0.00L7.90 -0.33L7.58 -0.67L7.27 -1.33M15.48 -7.00L14.54 -6.67L13.90 -5.67L13.59 -4.00L13.59 -3.00L13.90 -1.33L14.54 -0.33L15.48 0.00L16.12 0.00L17.06 -0.33L17.70 -1.33L18.01 -3.00L18.01 -4.00L17.70 -5.67L17.06 -6.67L16.12 -7.00L15.48 -7.00" fill="none" stroke="#000" stroke-width="1.0" stroke-linecap="square" stroke-linejoin="round" shape-rendering="crispEdges" />
<path transform="translate(79.70,308.50) translate(-18.01,0)" d="M4.74 -7.00L1.58 -7.00L1.26 -4.00L1.58 -4.33L2.53 -4.67L3.48 -4.67L4.42 -4.33L5.06 -3.67L5.37 -2.67L5.37 -2.00L5.06 -1.00L4.42 -0.33L3.48 0.00L2.53 0.00L1.58 -0.33L1.26 -0.67L0.95 -1.33M10.43 -7.00L7.27 -2.33L12.01 -2.33M10.43 -7.00L10.43 0.00M15.48 -7.00L14.54 -6.67L13.90 -5.67L13.59 -4.00L13.59 -3.00L13.90 -1.33L14.54 -0.33L15.48 0.00L16.12 0.00L17.06 -0.33L17.70 -1.33L18.01 -3.00L18.01 -4.00L17.70 -5.67L17.06 -6.67L16.12 -7.00L15.48 -7.00" fill="none" stroke="#000" stroke-width="1.0" stroke-linecap="square" stroke-linejoin="round" shape-rendering="crispEdges" />
<path transform="translate(79.70,296.50) translate(-18.01,0)" d="M4.74 -7.00L1.58 -7.00L1.26 -4.00L1.58 -4.33L2.53 -4.67L3.48 -4.67L4.42 -4.33L5.06 -3.67L5.37 -2.67L5.37 -2.00L5.06 -1.00L4.42 -0.33L3.48 0.00L2.53 0.00L1.58 -0.33L1.26 -0.67L0.95 -1.33M11.06 -7.00L7.90 -7.00L7.58 -4.00L7.90 -4.33L8.85 -4.67L9.80 -4.67L10.74 -4.33L11.38 -3.67L11.69 -2.67L11.69 -2.00L11.38 -1.00L10.74 -0.33L9.80 0.00L8.85 0.00L7.90 -0.33L7.58 -0.67L7.27 -1.33M15.48 -7.00L14.54 -6.67L13.90 -5.67L13.59 -4.00L13.59 -3.00L13.90 -1.33L14.54 -0.33L15.48 0.00L16.12 0.00L17.06 -0.33L17.70 -1.33L18.01 -3.00L18.01 -4.00L17.70 -5.67L17.06 -6.67L16.12 -7.00L15.48 -7.00" fill="none" stroke="#000" stroke-width="1.0" stroke-linecap="square" stroke-linejoin="round" shape-rendering="crispEdges" />
<path transform="translate(79.70,285.50) translate(-18.01,0)" d="M4.74 -7.00L1.58 -7.00L1.26 -4.00L1.58 -4.33L2.53 -4.67L3.48 -4.67L4.42 -4.33L5.06 -3.67L5.37 -2.67L5.37 -2.00L5.06 -1.00L4.42 -0.33L3.48 0.00L2.53 0.00L1.58 -0.33L1.26 -0.67L0.95 -1.33M11.38 -6.00L11.06 -6.67L10.11 -7.00L9.48 -7.00L8.53 -6.67L7.90 -5.67L7.58 -4.00L7.58 -2.33L7.90 -1.00L8.53 -0.33L9.48 0.00L9.80 0.00L10.74 -0.33L11.38 -1.00L11.69 -2.00L11.69 -2.33L11.38 -3.33L10.74 -4.00L9.80 -4.33L9.48 -4.33L8.53 -4.00L7.90 -3.33L7.58 -2.33M15.48 -7.00L14.54 -6.67L13.90 -5.67L13.59 -4.00L13.59 -3.00L13.90 -1.33L14.54 -0.33L15.48 0.00L16.12 0.00L17.06 -0.33L17.70 -1.33L18.01 -3.00L18.01 -4.00L17.70 -5.67L17.06 -6.67L16.12 -7.00L15.48 -7.00" fill="none" stroke="#000" stroke-width="1.0" stroke-linecap="square" stroke-linejoin="round" shape-rendering="crispEdges" />
<path transform="translate(79.70,273.50) translate(-18.01,0)" d="M4.74 -7.00L1.58 -7.00L1.26 -4.00L1.58 -4.33L2.53 -4.67L3.48 -4.67L4.42 -4.33L5.06 -3.67L5.37 -2.67L5.37 -2.00L5.06 -1.00L4.42 -0.33L3.48 0.00L2.53 0.00L1.58 -0.33L1.26 -0.67L0.95 -1.33M11.69 -7.00L8.53 0.00M7.27 -7.00L11.69 -7.00M15.48 -7.00L14.54 -6.67L13.90 -5.67L13.59 -4.00L13.59 -3.00L13.90 -1.33L14.54 -0.33L15.48 0.00L16.12 0.00L17.06 -0.33L17.70 -1.33L18.01 -3.00L18.01 -4.00L17.70 -5.67L17.06 -6.67L16.12 -7.00L15.48 -7.00" fill="none" stroke="#000" stroke-width="1.0" stroke-linecap="square" stroke-linejoin="round" shape-rendering="crispEdges" />
<path transform="translate(79.70,261.50) translate(-18.01,0)" d="M4.74 -7.00L1.58 -7.00L1.26 -4.00L1.58 -4.33L2.53 -4.67L3.48 -4.67L4.42 -4.33L5.06 -3.67L5.37 -2.67L5.37 -2.00L5.06 -1.00L4.42 -0.33L3.48 0.00L2.53 0.00L1.58 -0.33L1.26 -0.67L0.95 -1.33M8.85 -7.00L7.90 -6.67L7.58 -6.00L7.58 -5.33L7.90 -4.67L8.53 -4.33L9.80 -4.00L10.74 -3.67L11.38 -3.00L11.69 -2.33L11.69 -1.33L11.38 -0.67L11.06 -0.33L10.11 0.00L8.85 0.00L7.90 -0.33L7.58 -0.67L7.27 -1.33L7.27 -2.33L7.58 -3.00L8.22 -3.67L9.16 -4.00L10.43 -4.33L11.06 -4.67L11.38 -5.33L11.38 -6.00L11.06 -6.67L10.11 -7.00L8.85 -7.00M15.48 -7.00L14.54 -6.67L13.90 -5.67L13.59 -4.00L13.59 -3.00L13.90 -1.33L14.54 -0.33L15.48 0.00L16.12 0.00L17.06 -0.33L17.70 -1.33L18.01 -3.00L18.01 -4.00L17.70 -5.67L17.06 -6.67L16.12 -7.00L15.48 -7.00" fill="none" stroke="#000" stroke-width="1.0" stroke-linecap="square" stroke-linejoin="round" shape-rendering="crispEdges" />
<path transform="translate(79.70,249.50) translate(-18.01,0)" d="M4.74 -7.00L1.58 -7.00L1.26 -4.00L1.58 -4.33L2.53 -4.67L3.48 -4.67L4.42 -4.33L5.06 -3.67L5.37 -2.67L5.37 -2.00L5.06 -1.00L4.42 -0.33L3.48 0.00L2.53 0.00L1.58 -0.33L1.26 -0.67L0.95 -1.33M11.38 -4.67L11.06 -3.67L10.43 -3.00L9.48 -2.67L9.16 -2.67L8.22 -3.00L7.58 -3.67L7.27 -4.67L7.27 -5.00L7.58 -6.00L8.22 -6.67L9.16 -7.00L9.48 -7.00L10.43 -6.67L11.06 -6.00L11.38 -4.67L11.38 -3.00L11.06 -1.33L10.43 -0.33L9.48 0.00L8.85 0.00L7.90 -0.33L7.58 -1.00M15.48 -7.00L14.54 -6.67L13.90 -5.67L13.59 -4.00L13.59 -3.00L13.90 -1.33L14.54 -0.33L15.48 0.00L16.12 0.00L17.06 -0.33L17.70 -1.33L18.01 -3.00L18.01 -4.00L17.70 -5.67L17.06 -6.67L16.12 -7.00L15.48 -7.00" fill="none" stroke="#000" stroke-width="1.0" stroke-linecap="square" stroke-linejoin="round" shape-rendering="crispEdges" />
<path transform="translate(79.70,237.50) translate(-18.01,0)" d="M5.06 -6.00L4.74 -6.67L3.79 -7.00L3.16 -7.00L2.21 -6.67L1.58 -5.67L1.26 -4.00L1.26 -2.33L1.58 -1.00L2.21 -0.33L3.16 0.00L3.48 0.00L4.42 -0.33L5.06 -1.00L5.37 -2.00L5.37 -2.33L5.06 -3.33L4.42 -4.00L3.48 -4.33L3.16 -4.33L2.21 -4.00L1.58 -3.33L1.26 -2.33M9.16 -7.00L8.22 -6.67L7.58 -5.67L7.27 -4.00L7.27 -3.00L7.58 -1.33L8.22 -0.33L9.16 0.00L9.80 0.00L10.74 -0.33L11.38 -1.33L11.69 -3.00L11.69 -4.00L11.38 -5.67L10.74 -6.67L9.80 -7.00L9.16 -7.00M15.48 -7.00L14.54 -6.67L13.90 -5.67L13.59 -4.00L13.59 -3.00L13.90 -1.33L14.54 -0.33L15.48 0.00L16.12 0.00L17.06 -0.33L17.70 -1.33L18.01 -3.00L18.01 -4.00L17.70 -5.67L17.06 -6.67L16.12 -7.00L15.48 -7.00" fill="none" stroke="#000" stroke-width="1.0" stroke-linecap="square" stroke-linejoin="round" shape-rendering="crispEdges" />
<path transform="translate(79.70,554.50) translate(-5.37,0)" d="M2.84 -7.00L1.90 -6.67L1.26 -5.67L0.95 -4.00L0.95 -3.00L1.26 -1.33L1.90 -0.33L2.84 0.00L3.48 0.00L4.42 -0.33L5.06 -1.33L5.37 -3.00L5.37 -4.00L5.06 -5.67L4.42 -6.67L3.48 -7.00L2.84 -7.00" fill="none" stroke="#000" stroke-width="1.0" stroke-linecap="square" stroke-linejoin="round" shape-rendering="crispEdges" />
<path transform="translate(79.70,538.50) translate(-5.37,0)" d="M1.58 -7.00L5.06 -7.00L3.16 -4.33L4.11 -4.33L4.74 -4.00L5.06 -3.67L5.37 -2.67L5.37 -2.00L5.06 -1.00L4.42 -0.33L3.48 0.00L2.53 0.00L1.58 -0.33L1.26 -0.67L0.95 -1.33" fill="none" stroke="#000" stroke-width="1.0" stroke-linecap="square" stroke-linejoin="round" shape-rendering="crispEdges" />
<path transform="translate(79.70,520.50) translate(-5.37,0)" d="M5.06 -6.00L4.74 -6.67L3.79 -7.00L3.16 -7.00L2.21 -6.67L1.58 -5.67L1.26 -4.00L1.26 -2.33L1.58 -1.00L2.21 -0.33L3.16 0.00L3.48 0.00L4.42 -0.33L5.06 -1.00L5.37 -2.00L5.37 -2.33L5.06 -3.33L4.42 -4.00L3.48 -4.33L3.16 -4.33L2.21 -4.00L1.58 -3.33L1.26 -2.33" fill="none" stroke="#000" stroke-width="1.0" stroke-linecap="square" stroke-linejoin="round" shape-rendering="crispEdges" />
<path transform="translate(79.70,502.50) translate(-5.06,0)" d="M5.06 -4.67L4.74 -3.67L4.11 -3.00L3.16 -2.67L2.84 -2.67L1.90 -3.00L1.26 -3.67L0.95 -4.67L0.95 -5.00L1.26 -6.00L1.90 -6.67L2.84 -7.00L3.16 -7.00L4.11 -6.67L4.74 -6.00L5.06 -4.67L5.06 -3.00L4.74 -1.33L4.11 -0.33L3.16 0.00L2.53 0.00L1.58 -0.33L1.26 -1.00" fill="none" stroke="#000" stroke-width="1.0" stroke-linecap="square" stroke-linejoin="round" shape-rendering="crispEdges" />
<path transform="translate(79.70,485.50) translate(-11.69,0)" d="M1.90 -5.67L2.53 -6.00L3.48 -7.00L3.48 0.00M7.58 -5.33L7.58 -5.67L7.90 -6.33L8.22 -6.67L8.85 -7.00L10.11 -7.00L10.74 -6.67L11.06 -6.33L11.38 -5.67L11.38 -5.00L11.06 -4.33L10.43 -3.33L7.27 0.00L11.69 0.00" fill="none" stroke="#000" stroke-width="1.0" stroke-linecap="square" stroke-linejoin="round" shape-rendering="crispEdges" />
<path transform="translate(79.70,467.50) translate(-11.69,0)" d="M1.90 -5.67L2.53 -6.00L3.48 -7.00L3.48 0.00M11.06 -7.00L7.90 -7.00L7.58 -4.00L7.90 -4.33L8.85 -4.67L9.80 -4.67L10.74 -4.33L11.38 -3.67L11.69 -2.67L11.69 -2.00L11.38 -1.00L10.74 -0.33L9.80 0.00L8.85 0.00L7.90 -0.33L7.58 -0.67L7.27 -1.33" fill="none" stroke="#000" stroke-width="1.0" stroke-linecap="square" stroke-linejoin="round" shape-rendering="crispEdges" />
<path transform="translate(79.70,449.50) translate(-11.69,0)" d="M1.90 -5.67L2.53 -6.00L3.48 -7.00L3.48 0.00M8.85 -7.00L7.90 -6.67L7.58 -6.00L7.58 -5.33L7.90 -4.67L8.53 -4.33L9.80 -4.00L10.74 -3.67L11.38 -3.00L11.69 -2.33L11.69 -1.33L11.38 -0.67L11.06 -0.33L10.11 0.00L8.85 0.00L7.90 -0.33L7.58 -0.67L7.27 -1.33L7.27 -2.33L7.58 -3.00L8.22 -3.67L9.16 -4.00L10.43 -4.33L11.06 -4.67L11.38 -5.33L11.38 -6.00L11.06 -6.67L10.11 -7.00L8.85 -7.00" fill="none" stroke="#000" stroke-width="1.0" stroke-linecap="square" stroke-linejoin="round" shape-rendering="crispEdges" />
<path transform="translate(79.70,432.50) translate(-9.80,0)" d="M1.26 -5.33L1.26 -5.67L1.58 -6.33L1.90 -6.67L2.53 -7.00L3.79 -7.00L4.42 -6.67L4.74 -6.33L5.06 -5.67L5.06 -5.00L4.74 -4.33L4.11 -3.33L0.95 0.00L5.37 0.00M8.22 -5.67L8.85 -6.00L9.80 -7.00L9.80 0.00" fill="none" stroke="#000" stroke-width="1.0" stroke-linecap="square" stroke-linejoin="round" shape-rendering="crispEdges" />
<path transform="translate(79.70,414.50) translate(-12.01,0)" d="M1.26 -5.33L1.26 -5.67L1.58 -6.33L1.90 -6.67L2.53 -7.00L3.79 -7.00L4.42 -6.67L4.74 -6.33L5.06 -5.67L5.06 -5.00L4.74 -4.33L4.11 -3.33L0.95 0.00L5.37 0.00M10.43 -7.00L7.27 -2.33L12.01 -2.33M10.43 -7.00L10.43 0.00" fill="none" stroke="#000" stroke-width="1.0" stroke-linecap="square" stroke-linejoin="round" shape-rendering="crispEdges" />
<path transform="translate(79.70,396.50) translate(-11.69,0)" d="M1.26 -5.33L1.26 -5.67L1.58 -6.33L1.90 -6.67L2.53 -7.00L3.79 -7.00L4.42 -6.67L4.74 -6.33L5.06 -5.67L5.06 -5.00L4.74 -4.33L4.11 -3.33L0.95 0.00L5.37 0.00M11.69 -7.00L8.53 0.00M7.27 -7.00L11.69 -7.00" fill="none" stroke="#000" stroke-width="1.0" stroke-linecap="square" stroke-linejoin="round" shape-rendering="crispEdges" />
<path transform="translate(122.60,247.50) translate(-12.87,0)" d="M1.65 -7.00L5.28 -7.00L3.30 -4.33L4.29 -4.33L4.95 -4.00L5.28 -3.67L5.61 -2.67L5.61 -2.00L5.28 -1.00L4.62 -0.33L3.63 0.00L2.64 0.00L1.65 -0.33L1.32 -0.67L0.99 -1.33M7.92 -7.00L7.92 0.00M7.92 -7.00L12.21 -7.00M7.92 -3.67L10.56 -3.67M13.86 -7.00L13.86 0.00M13.86 -7.00L18.15 -7.00M13.86 -3.67L16.50 -3.67M13.86 0.00L18.15 0.00M20.13 -7.00L20.13 0.00M20.13 -7.00L23.10 -7.00L24.09 -6.67L24.42 -6.33L24.75 -5.67L24.75 -5.00L24.42 -4.33L24.09 -4.00L23.10 -3.67M20.13 -3.67L23.10 -3.67L24.09 -3.33L24.42 -3.00L24.75 -2.33L24.75 -1.33L24.42 -0.67L24.09 -0.33L23.10 0.00L20.13 0.00" fill="none" stroke="#000" stroke-width="1.0" stroke-linecap="square" stroke-linejoin="round" shape-rendering="crispEdges" />
<path transform="translate(122.60,564.50) translate(-12.87,0)" d="M1.65 -7.00L5.28 -7.00L3.30 -4.33L4.29 -4.33L4.95 -4.00L5.28 -3.67L5.61 -2.67L5.61 -2.00L5.28 -1.00L4.62 -0.33L3.63 0.00L2.64 0.00L1.65 -0.33L1.32 -0.67L0.99 -1.33M7.92 -7.00L7.92 0.00M7.92 -7.00L12.21 -7.00M7.92 -3.67L10.56 -3.67M13.86 -7.00L13.86 0.00M13.86 -7.00L18.15 -7.00M13.86 -3.67L16.50 -3.67M13.86 0.00L18.15 0.00M20.13 -7.00L20.13 0.00M20.13 -7.00L23.10 -7.00L24.09 -6.67L24.42 -6.33L24.75 -5.67L24.75 -5.00L24.42 -4.33L24.09 -4.00L23.10 -3.67M20.13 -3.67L23.10 -3.67L24.09 -3.33L24.42 -3.00L24.75 -2.33L24.75 -1.33L24.42 -0.67L24.09 -0.33L23.10 0.00L20.13 0.00" fill="none" stroke="#000" stroke-width="1.0" stroke-linecap="square" stroke-linejoin="round" shape-rendering="crispEdges" />
<path transform="translate(169.68,247.50) translate(-12.87,0)" d="M4.95 -7.00L1.65 -7.00L1.32 -4.00L1.65 -4.33L2.64 -4.67L3.63 -4.67L4.62 -4.33L5.28 -3.67L5.61 -2.67L5.61 -2.00L5.28 -1.00L4.62 -0.33L3.63 0.00L2.64 0.00L1.65 -0.33L1.32 -0.67L0.99 -1.33M7.92 -7.00L7.92 0.00M7.92 -7.00L12.21 -7.00M7.92 -3.67L10.56 -3.67M13.86 -7.00L13.86 0.00M13.86 -7.00L18.15 -7.00M13.86 -3.67L16.50 -3.67M13.86 0.00L18.15 0.00M20.13 -7.00L20.13 0.00M20.13 -7.00L23.10 -7.00L24.09 -6.67L24.42 -6.33L24.75 -5.67L24.75 -5.00L24.42 -4.33L24.09 -4.00L23.10 -3.67M20.13 -3.67L23.10 -3.67L24.09 -3.33L24.42 -3.00L24.75 -2.33L24.75 -1.33L24.42 -0.67L24.09 -0.33L23.10 0.00L20.13 0.00" fill="none" stroke="#000" stroke-width="1.0" stroke-linecap="square" stroke-linejoin="round" shape-rendering="crispEdges" />
<path transform="translate(169.68,564.50) translate(-12.87,0)" d="M4.95 -7.00L1.65 -7.00L1.32 -4.00L1.65 -4.33L2.64 -4.67L3.63 -4.67L4.62 -4.33L5.28 -3.67L5.61 -2.67L5.61 -2.00L5.28 -1.00L4.62 -0.33L3.63 0.00L2.64 0.00L1.65 -0.33L1.32 -0.67L0.99 -1.33M7.92 -7.00L7.92 0.00M7.92 -7.00L12.21 -7.00M7.92 -3.67L10.56 -3.67M13.86 -7.00L13.86 0.00M13.86 -7.00L18.15 -7.00M13.86 -3.67L16.50 -3.67M13.86 0.00L18.15 0.00M20.13 -7.00L20.13 0.00M20.13 -7.00L23.10 -7.00L24.09 -6.67L24.42 -6.33L24.75 -5.67L24.75 -5.00L24.42 -4.33L24.09 -4.00L23.10 -3.67M20.13 -3.67L23.10 -3.67L24.09 -3.33L24.42 -3.00L24.75 -2.33L24.75 -1.33L24.42 -0.67L24.09 -0.33L23.10 0.00L20.13 0.00" fill="none" stroke="#000" stroke-width="1.0" stroke-linecap="square" stroke-linejoin="round" shape-rendering="crispEdges" />
<path transform="translate(216.76,247.50) translate(-12.87,0)" d="M5.61 -7.00L2.31 0.00M0.99 -7.00L5.61 -7.00M7.92 -7.00L7.92 0.00M7.92 -7.00L12.21 -7.00M7.92 -3.67L10.56 -3.67M13.86 -7.00L13.86 0.00M13.86 -7.00L18.15 -7.00M13.86 -3.67L16.50 -3.67M13.86 0.00L18.15 0.00M20.13 -7.00L20.13 0.00M20.13 -7.00L23.10 -7.00L24.09 -6.67L24.42 -6.33L24.75 -5.67L24.75 -5.00L24.42 -4.33L24.09 -4.00L23.10 -3.67M20.13 -3.67L23.10 -3.67L24.09 -3.33L24.42 -3.00L24.75 -2.33L24.75 -1.33L24.42 -0.67L24.09 -0.33L23.10 0.00L20.13 0.00" fill="none" stroke="#000" stroke-width="1.0" stroke-linecap="square" stroke-linejoin="round" shape-rendering="crispEdges" />
<path transform="translate(216.76,564.50) translate(-12.87,0)" d="M5.61 -7.00L2.31 0.00M0.99 -7.00L5.61 -7.00M7.92 -7.00L7.92 0.00M7.92 -7.00L12.21 -7.00M7.92 -3.67L10.56 -3.67M13.86 -7.00L13.86 0.00M13.86 -7.00L18.15 -7.00M13.86 -3.67L16.50 -3.67M13.86 0.00L18.15 0.00M20.13 -7.00L20.13 0.00M20.13 -7.00L23.10 -7.00L24.09 -6.67L24.42 -6.33L24.75 -5.67L24.75 -5.00L24.42 -4.33L24.09 -4.00L23.10 -3.67M20.13 -3.67L23.10 -3.67L24.09 -3.33L24.42 -3.00L24.75 -2.33L24.75 -1.33L24.42 -0.67L24.09 -0.33L23.10 0.00L20.13 0.00" fill="none" stroke="#000" stroke-width="1.0" stroke-linecap="square" stroke-linejoin="round" shape-rendering="crispEdges" />
<path transform="translate(263.84,247.50) translate(-12.87,0)" d="M5.28 -4.67L4.95 -3.67L4.29 -3.00L3.30 -2.67L2.97 -2.67L1.98 -3.00L1.32 -3.67L0.99 -4.67L0.99 -5.00L1.32 -6.00L1.98 -6.67L2.97 -7.00L3.30 -7.00L4.29 -6.67L4.95 -6.00L5.28 -4.67L5.28 -3.00L4.95 -1.33L4.29 -0.33L3.30 0.00L2.64 0.00L1.65 -0.33L1.32 -1.00M7.92 -7.00L7.92 0.00M7.92 -7.00L12.21 -7.00M7.92 -3.67L10.56 -3.67M13.86 -7.00L13.86 0.00M13.86 -7.00L18.15 -7.00M13.86 -3.67L16.50 -3.67M13.86 0.00L18.15 0.00M20.13 -7.00L20.13 0.00M20.13 -7.00L23.10 -7.00L24.09 -6.67L24.42 -6.33L24.75 -5.67L24.75 -5.00L24.42 -4.33L24.09 -4.00L23.10 -3.67M20.13 -3.67L23.10 -3.67L24.09 -3.33L24.42 -3.00L24.75 -2.33L24.75 -1.33L24.42 -0.67L24.09 -0.33L23.10 0.00L20.13 0.00" fill="none" stroke="#000" stroke-width="1.0" stroke-linecap="square" stroke-linejoin="round" shape-rendering="crispEdges" />
<path transform="translate(263.84,564.50) translate(-12.87,0)" d="M5.28 -4.67L4.95 -3.67L4.29 -3.00L3.30 -2.67L2.97 -2.67L1.98 -3.00L1.32 -3.67L0.99 -4.67L0.99 -5.00L1.32 -6.00L1.98 -6.67L2.97 -7.00L3.30 -7.00L4.29 -6.67L4.95 -6.00L5.28 -4.67L5.28 -3.00L4.95 -1.33L4.29 -0.33L3.30 0.00L2.64 0.00L1.65 -0.33L1.32 -1.00M7.92 -7.00L7.92 0.00M7.92 -7.00L12.21 -7.00M7.92 -3.67L10.56 -3.67M13.86 -7.00L13.86 0.00M13.86 -7.00L18.15 -7.00M13.86 -3.67L16.50 -3.67M13.86 0.00L18.15 0.00M20.13 -7.00L20.13 0.00M20.13 -7.00L23.10 -7.00L24.09 -6.67L24.42 -6.33L24.75 -5.67L24.75 -5.00L24.42 -4.33L24.09 -4.00L23.10 -3.67M20.13 -3.67L23.10 -3.67L24.09 -3.33L24.42 -3.00L24.75 -2.33L24.75 -1.33L24.42 -0.67L24.09 -0.33L23.10 0.00L20.13 0.00" fill="none" stroke="#000" stroke-width="1.0" stroke-linecap="square" stroke-linejoin="round" shape-rendering="crispEdges" />
<path transform="translate(310.92,247.50) translate(-16.66,0)" d="M1.98 -5.67L2.64 -6.00L3.63 -7.00L3.63 0.00M8.58 -5.67L9.24 -6.00L10.23 -7.00L10.23 0.00M14.52 -7.00L14.52 0.00M14.52 -7.00L18.81 -7.00M14.52 -3.67L17.16 -3.67M20.46 -7.00L20.46 0.00M20.46 -7.00L24.75 -7.00M20.46 -3.67L23.10 -3.67M20.46 0.00L24.75 0.00M26.73 -7.00L26.73 0.00M26.73 -7.00L29.70 -7.00L30.69 -6.67L31.02 -6.33L31.35 -5.67L31.35 -5.00L31.02 -4.33L30.69 -4.00L29.70 -3.67M26.73 -3.67L29.70 -3.67L30.69 -3.33L31.02 -3.00L31.35 -2.33L31.35 -1.33L31.02 -0.67L30.69 -0.33L29.70 0.00L26.73 0.00" fill="none" stroke="#000" stroke-width="1.0" stroke-linecap="square" stroke-linejoin="round" shape-rendering="crispEdges" />
<path transform="translate(310.92,564.50) translate(-16.66,0)" d="M1.98 -5.67L2.64 -6.00L3.63 -7.00L3.63 0.00M8.58 -5.67L9.24 -6.00L10.23 -7.00L10.23 0.00M14.52 -7.00L14.52 0.00M14.52 -7.00L18.81 -7.00M14.52 -3.67L17.16 -3.67M20.46 -7.00L20.46 0.00M20.46 -7.00L24.75 -7.00M20.46 -3.67L23.10 -3.67M20.46 0.00L24.75 0.00M26.73 -7.00L26.73 0.00M26.73 -7.00L29.70 -7.00L30.69 -6.67L31.02 -6.33L31.35 -5.67L31.35 -5.00L31.02 -4.33L30.69 -4.00L29.70 -3.67M26.73 -3.67L29.70 -3.67L30.69 -3.33L31.02 -3.00L31.35 -2.33L31.35 -1.33L31.02 -0.67L30.69 -0.33L29.70 0.00L26.73 0.00" fill="none" stroke="#000" stroke-width="1.0" stroke-linecap="square" stroke-linejoin="round" shape-rendering="crispEdges" />
<path transform="translate(358.00,247.50) translate(-16.66,0)" d="M1.98 -5.67L2.64 -6.00L3.63 -7.00L3.63 0.00M8.25 -7.00L11.88 -7.00L9.90 -4.33L10.89 -4.33L11.55 -4.00L11.88 -3.67L12.21 -2.67L12.21 -2.00L11.88 -1.00L11.22 -0.33L10.23 0.00L9.24 0.00L8.25 -0.33L7.92 -0.67L7.59 -1.33M14.52 -7.00L14.52 0.00M14.52 -7.00L18.81 -7.00M14.52 -3.67L17.16 -3.67M20.46 -7.00L20.46 0.00M20.46 -7.00L24.75 -7.00M20.46 -3.67L23.10 -3.67M20.46 0.00L24.75 0.00M26.73 -7.00L26.73 0.00M26.73 -7.00L29.70 -7.00L30.69 -6.67L31.02 -6.33L31.35 -5.67L31.35 -5.00L31.02 -4.33L30.69 -4.00L29.70 -3.67M26.73 -3.67L29.70 -3.67L30.69 -3.33L31.02 -3.00L31.35 -2.33L31.35 -1.33L31.02 -0.67L30.69 -0.33L29.70 0.00L26.73 0.00" fill="none" stroke="#000" stroke-width="1.0" stroke-linecap="square" stroke-linejoin="round" shape-rendering="crispEdges" />
<path transform="translate(358.00,564.50) translate(-16.66,0)" d="M1.98 -5.67L2.64 -6.00L3.63 -7.00L3.63 0.00M8.25 -7.00L11.88 -7.00L9.90 -4.33L10.89 -4.33L11.55 -4.00L11.88 -3.67L12.21 -2.67L12.21 -2.00L11.88 -1.00L11.22 -0.33L10.23 0.00L9.24 0.00L8.25 -0.33L7.92 -0.67L7.59 -1.33M14.52 -7.00L14.52 0.00M14.52 -7.00L18.81 -7.00M14.52 -3.67L17.16 -3.67M20.46 -7.00L20.46 0.00M20.46 -7.00L24.75 -7.00M20.46 -3.67L23.10 -3.67M20.46 0.00L24.75 0.00M26.73 -7.00L26.73 0.00M26.73 -7.00L29.70 -7.00L30.69 -6.67L31.02 -6.33L31.35 -5.67L31.35 -5.00L31.02 -4.33L30.69 -4.00L29.70 -3.67M26.73 -3.67L29.70 -3.67L30.69 -3.33L31.02 -3.00L31.35 -2.33L31.35 -1.33L31.02 -0.67L30.69 -0.33L29.70 0.00L26.73 0.00" fill="none" stroke="#000" stroke-width="1.0" stroke-linecap="square" stroke-linejoin="round" shape-rendering="crispEdges" />
<path transform="translate(405.08,247.50) translate(-16.66,0)" d="M1.98 -5.67L2.64 -6.00L3.63 -7.00L3.63 0.00M11.55 -7.00L8.25 -7.00L7.92 -4.00L8.25 -4.33L9.24 -4.67L10.23 -4.67L11.22 -4.33L11.88 -3.67L12.21 -2.67L12.21 -2.00L11.88 -1.00L11.22 -0.33L10.23 0.00L9.24 0.00L8.25 -0.33L7.92 -0.67L7.59 -1.33M14.52 -7.00L14.52 0.00M14.52 -7.00L18.81 -7.00M14.52 -3.67L17.16 -3.67M20.46 -7.00L20.46 0.00M20.46 -7.00L24.75 -7.00M20.46 -3.67L23.10 -3.67M20.46 0.00L24.75 0.00M26.73 -7.00L26.73 0.00M26.73 -7.00L29.70 -7.00L30.69 -6.67L31.02 -6.33L31.35 -5.67L31.35 -5.00L31.02 -4.33L30.69 -4.00L29.70 -3.67M26.73 -3.67L29.70 -3.67L30.69 -3.33L31.02 -3.00L31.35 -2.33L31.35 -1.33L31.02 -0.67L30.69 -0.33L29.70 0.00L26.73 0.00" fill="none" stroke="#000" stroke-width="1.0" stroke-linecap="square" stroke-linejoin="round" shape-rendering="crispEdges" />
<path transform="translate(405.08,564.50) translate(-16.66,0)" d="M1.98 -5.67L2.64 -6.00L3.63 -7.00L3.63 0.00M11.55 -7.00L8.25 -7.00L7.92 -4.00L8.25 -4.33L9.24 -4.67L10.23 -4.67L11.22 -4.33L11.88 -3.67L12.21 -2.67L12.21 -2.00L11.88 -1.00L11.22 -0.33L10.23 0.00L9.24 0.00L8.25 -0.33L7.92 -0.67L7.59 -1.33M14.52 -7.00L14.52 0.00M14.52 -7.00L18.81 -7.00M14.52 -3.67L17.16 -3.67M20.46 -7.00L20.46 0.00M20.46 -7.00L24.75 -7.00M20.46 -3.67L23.10 -3.67M20.46 0.00L24.75 0.00M26.73 -7.00L26.73 0.00M26.73 -7.00L29.70 -7.00L30.69 -6.67L31.02 -6.33L31.35 -5.67L31.35 -5.00L31.02 -4.33L30.69 -4.00L29.70 -3.67M26.73 -3.67L29.70 -3.67L30.69 -3.33L31.02 -3.00L31.35 -2.33L31.35 -1.33L31.02 -0.67L30.69 -0.33L29.70 0.00L26.73 0.00" fill="none" stroke="#000" stroke-width="1.0" stroke-linecap="square" stroke-linejoin="round" shape-rendering="crispEdges" />
<path transform="translate(452.16,247.50) translate(-16.66,0)" d="M1.98 -5.67L2.64 -6.00L3.63 -7.00L3.63 0.00M12.21 -7.00L8.91 0.00M7.59 -7.00L12.21 -7.00M14.52 -7.00L14.52 0.00M14.52 -7.00L18.81 -7.00M14.52 -3.67L17.16 -3.67M20.46 -7.00L20.46 0.00M20.46 -7.00L24.75 -7.00M20.46 -3.67L23.10 -3.67M20.46 0.00L24.75 0.00M26.73 -7.00L26.73 0.00M26.73 -7.00L29.70 -7.00L30.69 -6.67L31.02 -6.33L31.35 -5.67L31.35 -5.00L31.02 -4.33L30.69 -4.00L29.70 -3.67M26.73 -3.67L29.70 -3.67L30.69 -3.33L31.02 -3.00L31.35 -2.33L31.35 -1.33L31.02 -0.67L30.69 -0.33L29.70 0.00L26.73 0.00" fill="none" stroke="#000" stroke-width="1.0" stroke-linecap="square" stroke-linejoin="round" shape-rendering="crispEdges" />
<path transform="translate(452.16,564.50) translate(-16.66,0)" d="M1.98 -5.67L2.64 -6.00L3.63 -7.00L3.63 0.00M12.21 -7.00L8.91 0.00M7.59 -7.00L12.21 -7.00M14.52 -7.00L14.52 0.00M14.52 -7.00L18.81 -7.00M14.52 -3.67L17.16 -3.67M20.46 -7.00L20.46 0.00M20.46 -7.00L24.75 -7.00M20.46 -3.67L23.10 -3.67M20.46 0.00L24.75 0.00M26.73 -7.00L26.73 0.00M26.73 -7.00L29.70 -7.00L30.69 -6.67L31.02 -6.33L31.35 -5.67L31.35 -5.00L31.02 -4.33L30.69 -4.00L29.70 -3.67M26.73 -3.67L29.70 -3.67L30.69 -3.33L31.02 -3.00L31.35 -2.33L31.35 -1.33L31.02 -0.67L30.69 -0.33L29.70 0.00L26.73 0.00" fill="none" stroke="#000" stroke-width="1.0" stroke-linecap="square" stroke-linejoin="round" shape-rendering="crispEdges" />
<path transform="translate(499.24,247.50) translate(-16.66,0)" d="M1.98 -5.67L2.64 -6.00L3.63 -7.00L3.63 0.00M11.88 -4.67L11.55 -3.67L10.89 -3.00L9.90 -2.67L9.57 -2.67L8.58 -3.00L7.92 -3.67L7.59 -4.67L7.59 -5.00L7.92 -6.00L8.58 -6.67L9.57 -7.00L9.90 -7.00L10.89 -6.67L11.55 -6.00L11.88 -4.67L11.88 -3.00L11.55 -1.33L10.89 -0.33L9.90 0.00L9.24 0.00L8.25 -0.33L7.92 -1.00M14.52 -7.00L14.52 0.00M14.52 -7.00L18.81 -7.00M14.52 -3.67L17.16 -3.67M20.46 -7.00L20.46 0.00M20.46 -7.00L24.75 -7.00M20.46 -3.67L23.10 -3.67M20.46 0.00L24.75 0.00M26.73 -7.00L26.73 0.00M26.73 -7.00L29.70 -7.00L30.69 -6.67L31.02 -6.33L31.35 -5.67L31.35 -5.00L31.02 -4.33L30.69 -4.00L29.70 -3.67M26.73 -3.67L29.70 -3.67L30.69 -3.33L31.02 -3.00L31.35 -2.33L31.35 -1.33L31.02 -0.67L30.69 -0.33L29.70 0.00L26.73 0.00" fill="none" stroke="#000" stroke-width="1.0" stroke-linecap="square" stroke-linejoin="round" shape-rendering="crispEdges" />
<path transform="translate(499.24,564.50) translate(-16.66,0)" d="M1.98 -5.67L2.64 -6.00L3.63 -7.00L3.63 0.00M11.88 -4.67L11.55 -3.67L10.89 -3.00L9.90 -2.67L9.57 -2.67L8.58 -3.00L7.92 -3.67L7.59 -4.67L7.59 -5.00L7.92 -6.00L8.58 -6.67L9.57 -7.00L9.90 -7.00L10.89 -6.67L11.55 -6.00L11.88 -4.67L11.88 -3.00L11.55 -1.33L10.89 -0.33L9.90 0.00L9.24 0.00L8.25 -0.33L7.92 -1.00M14.52 -7.00L14.52 0.00M14.52 -7.00L18.81 -7.00M14.52 -3.67L17.16 -3.67M20.46 -7.00L20.46 0.00M20.46 -7.00L24.75 -7.00M20.46 -3.67L23.10 -3.67M20.46 0.00L24.75 0.00M26.73 -7.00L26.73 0.00M26.73 -7.00L29.70 -7.00L30.69 -6.67L31.02 -6.33L31.35 -5.67L31.35 -5.00L31.02 -4.33L30.69 -4.00L29.70 -3.67M26.73 -3.67L29.70 -3.67L30.69 -3.33L31.02 -3.00L31.35 -2.33L31.35 -1.33L31.02 -0.67L30.69 -0.33L29.70 0.00L26.73 0.00" fill="none" stroke="#000" stroke-width="1.0" stroke-linecap="square" stroke-linejoin="round" shape-rendering="crispEdges" />
<path transform="translate(546.32,247.50) translate(-16.17,0)" d="M1.32 -5.33L1.32 -5.67L1.65 -6.33L1.98 -6.67L2.64 -7.00L3.96 -7.00L4.62 -6.67L4.95 -6.33L5.28 -5.67L5.28 -5.00L4.95 -4.33L4.29 -3.33L0.99 0.00L5.61 0.00M8.58 -5.67L9.24 -6.00L10.23 -7.00L10.23 0.00M14.52 -7.00L14.52 0.00M14.52 -7.00L18.81 -7.00M14.52 -3.67L17.16 -3.67M20.46 -7.00L20.46 0.00M20.46 -7.00L24.75 -7.00M20.46 -3.67L23.10 -3.67M20.46 0.00L24.75 0.00M26.73 -7.00L26.73 0.00M26.73 -7.00L29.70 -7.00L30.69 -6.67L31.02 -6.33L31.35 -5.67L31.35 -5.00L31.02 -4.33L30.69 -4.00L29.70 -3.67M26.73 -3.67L29.70 -3.67L30.69 -3.33L31.02 -3.00L31.35 -2.33L31.35 -1.33L31.02 -0.67L30.69 -0.33L29.70 0.00L26.73 0.00" fill="none" stroke="#000" stroke-width="1.0" stroke-linecap="square" stroke-linejoin="round" shape-rendering="crispEdges" />
<path transform="translate(546.32,564.50) translate(-16.17,0)" d="M1.32 -5.33L1.32 -5.67L1.65 -6.33L1.98 -6.67L2.64 -7.00L3.96 -7.00L4.62 -6.67L4.95 -6.33L5.28 -5.67L5.28 -5.00L4.95 -4.33L4.29 -3.33L0.99 0.00L5.61 0.00M8.58 -5.67L9.24 -6.00L10.23 -7.00L10.23 0.00M14.52 -7.00L14.52 0.00M14.52 -7.00L18.81 -7.00M14.52 -3.67L17.16 -3.67M20.46 -7.00L20.46 0.00M20.46 -7.00L24.75 -7.00M20.46 -3.67L23.10 -3.67M20.46 0.00L24.75 0.00M26.73 -7.00L26.73 0.00M26.73 -7.00L29.70 -7.00L30.69 -6.67L31.02 -6.33L31.35 -5.67L31.35 -5.00L31.02 -4.33L30.69 -4.00L29.70 -3.67M26.73 -3.67L29.70 -3.67L30.69 -3.33L31.02 -3.00L31.35 -2.33L31.35 -1.33L31.02 -0.67L30.69 -0.33L29.70 0.00L26.73 0.00" fill="none" stroke="#000" stroke-width="1.0" stroke-linecap="square" stroke-linejoin="round" shape-rendering="crispEdges" />
<path transform="translate(593.40,247.50) translate(-16.17,0)" d="M1.32 -5.33L1.32 -5.67L1.65 -6.33L1.98 -6.67L2.64 -7.00L3.96 -7.00L4.62 -6.67L4.95 -6.33L5.28 -5.67L5.28 -5.00L4.95 -4.33L4.29 -3.33L0.99 0.00L5.61 0.00M8.25 -7.00L11.88 -7.00L9.90 -4.33L10.89 -4.33L11.55 -4.00L11.88 -3.67L12.21 -2.67L12.21 -2.00L11.88 -1.00L11.22 -0.33L10.23 0.00L9.24 0.00L8.25 -0.33L7.92 -0.67L7.59 -1.33M14.52 -7.00L14.52 0.00M14.52 -7.00L18.81 -7.00M14.52 -3.67L17.16 -3.67M20.46 -7.00L20.46 0.00M20.46 -7.00L24.75 -7.00M20.46 -3.67L23.10 -3.67M20.46 0.00L24.75 0.00M26.73 -7.00L26.73 0.00M26.73 -7.00L29.70 -7.00L30.69 -6.67L31.02 -6.33L31.35 -5.67L31.35 -5.00L31.02 -4.33L30.69 -4.00L29.70 -3.67M26.73 -3.67L29.70 -3.67L30.69 -3.33L31.02 -3.00L31.35 -2.33L31.35 -1.33L31.02 -0.67L30.69 -0.33L29.70 0.00L26.73 0.00" fill="none" stroke="#000" stroke-width="1.0" stroke-linecap="square" stroke-linejoin="round" shape-rendering="crispEdges" />
<path transform="translate(593.40,564.50) translate(-16.17,0)" d="M1.32 -5.33L1.32 -5.67L1.65 -6.33L1.98 -6.67L2.64 -7.00L3.96 -7.00L4.62 -6.67L4.95 -6.33L5.28 -5.67L5.28 -5.00L4.95 -4.33L4.29 -3.33L0.99 0.00L5.61 0.00M8.25 -7.00L11.88 -7.00L9.90 -4.33L10.89 -4.33L11.55 -4.00L11.88 -3.67L12.21 -2.67L12.21 -2.00L11.88 -1.00L11.22 -0.33L10.23 0.00L9.24 0.00L8.25 -0.33L7.92 -0.67L7.59 -1.33M14.52 -7.00L14.52 0.00M14.52 -7.00L18.81 -7.00M14.52 -3.67L17.16 -3.67M20.46 -7.00L20.46 0.00M20.46 -7.00L24.75 -7.00M20.46 -3.67L23.10 -3.67M20.46 0.00L24.75 0.00M26.73 -7.00L26.73 0.00M26.73 -7.00L29.70 -7.00L30.69 -6.67L31.02 -6.33L31.35 -5.67L31.35 -5.00L31.02 -4.33L30.69 -4.00L29.70 -3.67M26.73 -3.67L29.70 -3.67L30.69 -3.33L31.02 -3.00L31.35 -2.33L31.35 -1.33L31.02 -0.67L30.69 -0.33L29.70 0.00L26.73 0.00" fill="none" stroke="#000" stroke-width="1.0" stroke-linecap="square" stroke-linejoin="round" shape-rendering="crispEdges" />
<path transform="translate(640.48,247.50) translate(-16.17,0)" d="M1.32 -5.33L1.32 -5.67L1.65 -6.33L1.98 -6.67L2.64 -7.00L3.96 -7.00L4.62 -6.67L4.95 -6.33L5.28 -5.67L5.28 -5.00L4.95 -4.33L4.29 -3.33L0.99 0.00L5.61 0.00M11.55 -7.00L8.25 -7.00L7.92 -4.00L8.25 -4.33L9.24 -4.67L10.23 -4.67L11.22 -4.33L11.88 -3.67L12.21 -2.67L12.21 -2.00L11.88 -1.00L11.22 -0.33L10.23 0.00L9.24 0.00L8.25 -0.33L7.92 -0.67L7.59 -1.33M14.52 -7.00L14.52 0.00M14.52 -7.00L18.81 -7.00M14.52 -3.67L17.16 -3.67M20.46 -7.00L20.46 0.00M20.46 -7.00L24.75 -7.00M20.46 -3.67L23.10 -3.67M20.46 0.00L24.75 0.00M26.73 -7.00L26.73 0.00M26.73 -7.00L29.70 -7.00L30.69 -6.67L31.02 -6.33L31.35 -5.67L31.35 -5.00L31.02 -4.33L30.69 -4.00L29.70 -3.67M26.73 -3.67L29.70 -3.67L30.69 -3.33L31.02 -3.00L31.35 -2.33L31.35 -1.33L31.02 -0.67L30.69 -0.33L29.70 0.00L26.73 0.00" fill="none" stroke="#000" stroke-width="1.0" stroke-linecap="square" stroke-linejoin="round" shape-rendering="crispEdges" />
<path transform="translate(640.48,564.50) translate(-16.17,0)" d="M1.32 -5.33L1.32 -5.67L1.65 -6.33L1.98 -6.67L2.64 -7.00L3.96 -7.00L4.62 -6.67L4.95 -6.33L5.28 -5.67L5.28 -5.00L4.95 -4.33L4.29 -3.33L0.99 0.00L5.61 0.00M11.55 -7.00L8.25 -7.00L7.92 -4.00L8.25 -4.33L9.24 -4.67L10.23 -4.67L11.22 -4.33L11.88 -3.67L12.21 -2.67L12.21 -2.00L11.88 -1.00L11.22 -0.33L10.23 0.00L9.24 0.00L8.25 -0.33L7.92 -0.67L7.59 -1.33M14.52 -7.00L14.52 0.00M14.52 -7.00L18.81 -7.00M14.52 -3.67L17.16 -3.67M20.46 -7.00L20.46 0.00M20.46 -7.00L24.75 -7.00M20.46 -3.67L23.10 -3.67M20.46 0.00L24.75 0.00M26.73 -7.00L26.73 0.00M26.73 -7.00L29.70 -7.00L30.69 -6.67L31.02 -6.33L31.35 -5.67L31.35 -5.00L31.02 -4.33L30.69 -4.00L29.70 -3.67M26.73 -3.67L29.70 -3.67L30.69 -3.33L31.02 -3.00L31.35 -2.33L31.35 -1.33L31.02 -0.67L30.69 -0.33L29.70 0.00L26.73 0.00" fill="none" stroke="#000" stroke-width="1.0" stroke-linecap="square" stroke-linejoin="round" shape-rendering="crispEdges" />
<path transform="translate(687.56,247.50) translate(-16.17,0)" d="M1.32 -5.33L1.32 -5.67L1.65 -6.33L1.98 -6.67L2.64 -7.00L3.96 -7.00L4.62 -6.67L4.95 -6.33L5.28 -5.67L5.28 -5.00L4.95 -4.33L4.29 -3.33L0.99 0.00L5.61 0.00M12.21 -7.00L8.91 0.00M7.59 -7.00L12.21 -7.00M14.52 -7.00L14.52 0.00M14.52 -7.00L18.81 -7.00M14.52 -3.67L17.16 -3.67M20.46 -7.00L20.46 0.00M20.46 -7.00L24.75 -7.00M20.46 -3.67L23.10 -3.67M20.46 0.00L24.75 0.00M26.73 -7.00L26.73 0.00M26.73 -7.00L29.70 -7.00L30.69 -6.67L31.02 -6.33L31.35 -5.67L31.35 -5.00L31.02 -4.33L30.69 -4.00L29.70 -3.67M26.73 -3.67L29.70 -3.67L30.69 -3.33L31.02 -3.00L31.35 -2.33L31.35 -1.33L31.02 -0.67L30.69 -0.33L29.70 0.00L26.73 0.00" fill="none" stroke="#000" stroke-width="1.0" stroke-linecap="square" stroke-linejoin="round" shape-rendering="crispEdges" />
<path transform="translate(687.56,564.50) translate(-16.17,0)" d="M1.32 -5.33L1.32 -5.67L1.65 -6.33L1.98 -6.67L2.64 -7.00L3.96 -7.00L4.62 -6.67L4.95 -6.33L5.28 -5.67L5.28 -5.00L4.95 -4.33L4.29 -3.33L0.99 0.00L5.61 0.00M12.21 -7.00L8.91 0.00M7.59 -7.00L12.21 -7.00M14.52 -7.00L14.52 0.00M14.52 -7.00L18.81 -7.00M14.52 -3.67L17.16 -3.67M20.46 -7.00L20.46 0.00M20.46 -7.00L24.75 -7.00M20.46 -3.67L23.10 -3.67M20.46 0.00L24.75 0.00M26.73 -7.00L26.73 0.00M26.73 -7.00L29.70 -7.00L30.69 -6.67L31.02 -6.33L31.35 -5.67L31.35 -5.00L31.02 -4.33L30.69 -4.00L29.70 -3.67M26.73 -3.67L29.70 -3.67L30.69 -3.33L31.02 -3.00L31.35 -2.33L31.35 -1.33L31.02 -0.67L30.69 -0.33L29.70 0.00L26.73 0.00" fill="none" stroke="#000" stroke-width="1.0" stroke-linecap="square" stroke-linejoin="round" shape-rendering="crispEdges" />
<path transform="translate(734.64,247.50) translate(-16.17,0)" d="M1.32 -5.33L1.32 -5.67L1.65 -6.33L1.98 -6.67L2.64 -7.00L3.96 -7.00L4.62 -6.67L4.95 -6.33L5.28 -5.67L5.28 -5.00L4.95 -4.33L4.29 -3.33L0.99 0.00L5.61 0.00M11.88 -4.67L11.55 -3.67L10.89 -3.00L9.90 -2.67L9.57 -2.67L8.58 -3.00L7.92 -3.67L7.59 -4.67L7.59 -5.00L7.92 -6.00L8.58 -6.67L9.57 -7.00L9.90 -7.00L10.89 -6.67L11.55 -6.00L11.88 -4.67L11.88 -3.00L11.55 -1.33L10.89 -0.33L9.90 0.00L9.24 0.00L8.25 -0.33L7.92 -1.00M14.52 -7.00L14.52 0.00M14.52 -7.00L18.81 -7.00M14.52 -3.67L17.16 -3.67M20.46 -7.00L20.46 0.00M20.46 -7.00L24.75 -7.00M20.46 -3.67L23.10 -3.67M20.46 0.00L24.75 0.00M26.73 -7.00L26.73 0.00M26.73 -7.00L29.70 -7.00L30.69 -6.67L31.02 -6.33L31.35 -5.67L31.35 -5.00L31.02 -4.33L30.69 -4.00L29.70 -3.67M26.73 -3.67L29.70 -3.67L30.69 -3.33L31.02 -3.00L31.35 -2.33L31.35 -1.33L31.02 -0.67L30.69 -0.33L29.70 0.00L26.73 0.00" fill="none" stroke="#000" stroke-width="1.0" stroke-linecap="square" stroke-linejoin="round" shape-rendering="crispEdges" />
<path transform="translate(734.64,564.50) translate(-16.17,0)" d="M1.32 -5.33L1.32 -5.67L1.65 -6.33L1.98 -6.67L2.64 -7.00L3.96 -7.00L4.62 -6.67L4.95 -6.33L5.28 -5.67L5.28 -5.00L4.95 -4.33L4.29 -3.33L0.99 0.00L5.61 0.00M11.88 -4.67L11.55 -3.67L10.89 -3.00L9.90 -2.67L9.57 -2.67L8.58 -3.00L7.92 -3.67L7.59 -4.67L7.59 -5.00L7.92 -6.00L8.58 -6.67L9.57 -7.00L9.90 -7.00L10.89 -6.67L11.55 -6.00L11.88 -4.67L11.88 -3.00L11.55 -1.33L10.89 -0.33L9.90 0.00L9.24 0.00L8.25 -0.33L7.92 -1.00M14.52 -7.00L14.52 0.00M14.52 -7.00L18.81 -7.00M14.52 -3.67L17.16 -3.67M20.46 -7.00L20.46 0.00M20.46 -7.00L24.75 -7.00M20.46 -3.67L23.10 -3.67M20.46 0.00L24.75 0.00M26.73 -7.00L26.73 0.00M26.73 -7.00L29.70 -7.00L30.69 -6.67L31.02 -6.33L31.35 -5.67L31.35 -5.00L31.02 -4.33L30.69 -4.00L29.70 -3.67M26.73 -3.67L29.70 -3.67L30.69 -3.33L31.02 -3.00L31.35 -2.33L31.35 -1.33L31.02 -0.67L30.69 -0.33L29.70 0.00L26.73 0.00" fill="none" stroke="#000" stroke-width="1.0" stroke-linecap="square" stroke-linejoin="round" shape-rendering="crispEdges" />
<path transform="translate(122.60,257.50) translate(-13.20,0)" d="M1.32 -5.33L1.32 -5.67L1.65 -6.33L1.98 -6.67L2.64 -7.00L3.96 -7.00L4.62 -6.67L4.95 -6.33L5.28 -5.67L5.28 -5.00L4.95 -4.33L4.29 -3.33L0.99 0.00L5.61 0.00M9.57 -7.00L8.58 -6.67L7.92 -5.67L7.59 -4.00L7.59 -3.00L7.92 -1.33L8.58 -0.33L9.57 0.00L10.23 0.00L11.22 -0.33L11.88 -1.33L12.21 -3.00L12.21 -4.00L11.88 -5.67L11.22 -6.67L10.23 -7.00L9.57 -7.00M16.17 -7.00L15.18 -6.67L14.52 -5.67L14.19 -4.00L14.19 -3.00L14.52 -1.33L15.18 -0.33L16.17 0.00L16.83 0.00L17.82 -0.33L18.48 -1.33L18.81 -3.00L18.81 -4.00L18.48 -5.67L17.82 -6.67L16.83 -7.00L16.17 -7.00M22.44 -7.00L21.45 -6.67L21.12 -6.00L21.12 -5.33L21.45 -4.67L22.11 -4.33L23.43 -4.00L24.42 -3.67L25.08 -3.00L25.41 -2.33L25.41 -1.33L25.08 -0.67L24.75 -0.33L23.76 0.00L22.44 0.00L21.45 -0.33L21.12 -0.67L20.79 -1.33L20.79 -2.33L21.12 -3.00L21.78 -3.67L22.77 -4.00L24.09 -4.33L24.75 -4.67L25.08 -5.33L25.08 -6.00L24.75 -6.67L23.76 -7.00L22.44 -7.00" fill="none" stroke="#000" stroke-width="1.0" stroke-linecap="square" stroke-linejoin="round" shape-rendering="crispEdges" />
<path transform="translate(122.60,575.50) translate(-13.20,0)" d="M1.32 -5.33L1.32 -5.67L1.65 -6.33L1.98 -6.67L2.64 -7.00L3.96 -7.00L4.62 -6.67L4.95 -6.33L5.28 -5.67L5.28 -5.00L4.95 -4.33L4.29 -3.33L0.99 0.00L5.61 0.00M9.57 -7.00L8.58 -6.67L7.92 -5.67L7.59 -4.00L7.59 -3.00L7.92 -1.33L8.58 -0.33L9.57 0.00L10.23 0.00L11.22 -0.33L11.88 -1.33L12.21 -3.00L12.21 -4.00L11.88 -5.67L11.22 -6.67L10.23 -7.00L9.57 -7.00M16.17 -7.00L15.18 -6.67L14.52 -5.67L14.19 -4.00L14.19 -3.00L14.52 -1.33L15.18 -0.33L16.17 0.00L16.83 0.00L17.82 -0.33L18.48 -1.33L18.81 -3.00L18.81 -4.00L18.48 -5.67L17.82 -6.67L16.83 -7.00L16.17 -7.00M22.44 -7.00L21.45 -6.67L21.12 -6.00L21.12 -5.33L21.45 -4.67L22.11 -4.33L23.43 -4.00L24.42 -3.67L25.08 -3.00L25.41 -2.33L25.41 -1.33L25.08 -0.67L24.75 -0.33L23.76 0.00L22.44 0.00L21.45 -0.33L21.12 -0.67L20.79 -1.33L20.79 -2.33L21.12 -3.00L21.78 -3.67L22.77 -4.00L24.09 -4.33L24.75 -4.67L25.08 -5.33L25.08 -6.00L24.75 -6.67L23.76 -7.00L22.44 -7.00" fill="none" stroke="#000" stroke-width="1.0" stroke-linecap="square" stroke-linejoin="round" shape-rendering="crispEdges" />
<path transform="translate(111.50,18.50) translate(-2.21,0)" d="M2.21 -10.00L2.21 0.00M2.21 -10.00L6.64 0.00M11.07 -10.00L6.64 0.00M11.07 -10.00L11.07 0.00M14.94 -3.81L21.59 -3.81L21.59 -4.76L21.03 -5.71L20.48 -6.19L19.37 -6.67L17.71 -6.67L16.61 -6.19L15.50 -5.24L14.94 -3.81L14.94 -2.86L15.50 -1.43L16.61 -0.48L17.71 0.00L19.37 0.00L20.48 -0.48L21.59 -1.43M26.01 -10.00L26.01 -1.90L26.57 -0.48L27.68 0.00L28.78 0.00M24.35 -6.67L28.23 -6.67M31.55 -3.81L38.19 -3.81L38.19 -4.76L37.64 -5.71L37.08 -6.19L35.98 -6.67L34.32 -6.67L33.21 -6.19L32.10 -5.24L31.55 -3.81L31.55 -2.86L32.10 -1.43L33.21 -0.48L34.32 0.00L35.98 0.00L37.08 -0.48L38.19 -1.43M44.28 -6.67L43.17 -6.19L42.07 -5.24L41.51 -3.81L41.51 -2.86L42.07 -1.43L43.17 -0.48L44.28 0.00L45.94 0.00L47.05 -0.48L48.15 -1.43L48.71 -2.86L48.71 -3.81L48.15 -5.24L47.05 -6.19L45.94 -6.67L44.28 -6.67M58.67 -6.67L58.67 0.95L58.12 2.38L57.56 2.86L56.46 3.33L54.80 3.33L53.69 2.86M58.67 -5.24L57.56 -6.19L56.46 -6.67L54.80 -6.67L53.69 -6.19L52.58 -5.24L52.03 -3.81L52.03 -2.86L52.58 -1.43L53.69 -0.48L54.80 0.00L56.46 0.00L57.56 -0.48L58.67 -1.43M63.10 -6.67L63.10 0.00M63.10 -3.81L63.65 -5.24L64.76 -6.19L65.87 -6.67L67.53 -6.67M76.38 -6.67L76.38 0.00M76.38 -5.24L75.28 -6.19L74.17 -6.67L72.51 -6.67L71.40 -6.19L70.29 -5.24L69.74 -3.81L69.74 -2.86L70.29 -1.43L71.40 -0.48L72.51 0.00L74.17 0.00L75.28 -0.48L76.38 -1.43M80.81 -6.67L80.81 0.00M80.81 -4.76L82.47 -6.19L83.58 -6.67L85.24 -6.67L86.35 -6.19L86.90 -4.76L86.90 0.00M86.90 -4.76L88.56 -6.19L89.67 -6.67L91.33 -6.67L92.43 -6.19L92.99 -4.76L92.99 0.00M109.59 -10.00L108.49 -10.00L107.38 -9.52L106.83 -8.10L106.83 0.00M105.16 -6.67L109.04 -6.67M115.13 -6.67L114.02 -6.19L112.91 -5.24L112.36 -3.81L112.36 -2.86L112.91 -1.43L114.02 -0.48L115.13 0.00L116.79 0.00L117.90 -0.48L119.00 -1.43L119.56 -2.86L119.56 -3.81L119.00 -5.24L117.90 -6.19L116.79 -6.67L115.13 -6.67M123.43 -6.67L123.43 0.00M123.43 -3.81L123.98 -5.24L125.09 -6.19L126.20 -6.67L127.86 -6.67M145.57 -6.67L145.57 0.95L145.02 2.38L144.46 2.86L143.36 3.33L141.70 3.33L140.59 2.86M145.57 -5.24L144.46 -6.19L143.36 -6.67L141.70 -6.67L140.59 -6.19L139.48 -5.24L138.93 -3.81L138.93 -2.86L139.48 -1.43L140.59 -0.48L141.70 0.00L143.36 0.00L144.46 -0.48L145.57 -1.43M150.00 -6.67L150.00 0.00M150.00 -3.81L150.55 -5.24L151.66 -6.19L152.77 -6.67L154.43 -6.67M156.64 -10.00L157.19 -9.52L157.75 -10.00L157.19 -10.48L156.64 -10.00M157.19 -6.67L157.19 0.00M167.71 -10.00L167.71 0.00M167.71 -5.24L166.60 -6.19L165.50 -6.67L163.84 -6.67L162.73 -6.19L161.62 -5.24L161.07 -3.81L161.07 -2.86L161.62 -1.43L162.73 -0.48L163.84 0.00L165.50 0.00L166.60 -0.48L167.71 -1.43M180.99 -6.67L180.99 3.33M180.99 -5.24L182.10 -6.19L183.21 -6.67L184.87 -6.67L185.98 -6.19L187.08 -5.24L187.64 -3.81L187.64 -2.86L187.08 -1.43L185.98 -0.48L184.87 0.00L183.21 0.00L182.10 -0.48L180.99 -1.43M193.72 -6.67L192.62 -6.19L191.51 -5.24L190.96 -3.81L190.96 -2.86L191.51 -1.43L192.62 -0.48L193.72 0.00L195.39 0.00L196.49 -0.48L197.60 -1.43L198.15 -2.86L198.15 -3.81L197.60 -5.24L196.49 -6.19L195.39 -6.67L193.72 -6.67M201.47 -10.00L202.03 -9.52L202.58 -10.00L202.03 -10.48L201.47 -10.00M202.03 -6.67L202.03 0.00M206.46 -6.67L206.46 0.00M206.46 -4.76L208.12 -6.19L209.22 -6.67L210.88 -6.67L211.99 -6.19L212.54 -4.76L212.54 0.00M217.53 -10.00L217.53 -1.90L218.08 -0.48L219.19 0.00L220.29 0.00M215.87 -6.67L219.74 -6.67M224.17 -6.67L223.61 -6.19L224.17 -5.71L224.72 -6.19L224.17 -6.67M224.17 -0.95L223.61 -0.48L224.17 0.00L224.72 -0.48L224.17 -0.95" fill="none" stroke="#000" stroke-width="1.0" stroke-linecap="square" stroke-linejoin="round" shape-rendering="crispEdges" />
<path transform="translate(112.50,43.50) translate(-2.92,0)" d="M2.92 -14.00L2.92 0.00M11.69 -9.33L10.23 -8.67L8.76 -7.33L8.03 -5.33L8.03 -4.00L8.76 -2.00L10.23 -0.67L11.69 0.00L13.88 0.00L15.34 -0.67L16.80 -2.00L17.53 -4.00L17.53 -5.33L16.80 -7.33L15.34 -8.67L13.88 -9.33L11.69 -9.33M22.64 -9.33L22.64 0.00M22.64 -6.67L24.83 -8.67L26.29 -9.33L28.49 -9.33L29.95 -8.67L30.68 -6.67L30.68 0.00M36.52 -8.00L49.67 -8.00M36.52 -4.00L49.67 -4.00M56.97 -11.33L58.43 -12.00L60.62 -14.00L60.62 0.00M71.58 -11.33L73.04 -12.00L75.23 -14.00L75.23 0.00M93.49 -12.00L92.76 -13.33L90.57 -14.00L89.11 -14.00L86.92 -13.33L85.46 -11.33L84.73 -8.00L84.73 -4.67L85.46 -2.00L86.92 -0.67L89.11 0.00L89.84 0.00L92.03 -0.67L93.49 -2.00L94.22 -4.00L94.22 -4.67L93.49 -6.67L92.03 -8.00L89.84 -8.67L89.11 -8.67L86.92 -8.00L85.46 -6.67L84.73 -4.67M100.06 -1.33L99.33 -0.67L100.06 0.00L100.80 -0.67L100.06 -1.33M110.29 -14.00L108.10 -13.33L106.64 -11.33L105.91 -8.00L105.91 -6.00L106.64 -2.67L108.10 -0.67L110.29 0.00L111.75 0.00L113.94 -0.67L115.40 -2.67L116.13 -6.00L116.13 -8.00L115.40 -11.33L113.94 -13.33L111.75 -14.00L110.29 -14.00M132.93 -14.00L132.93 0.00M146.81 -9.33L146.81 0.00M146.81 -7.33L145.35 -8.67L143.89 -9.33L141.70 -9.33L140.24 -8.67L138.78 -7.33L138.05 -5.33L138.05 -4.00L138.78 -2.00L140.24 -0.67L141.70 0.00L143.89 0.00L145.35 -0.67L146.81 -2.00M153.38 -14.00L153.38 -2.67L154.11 -0.67L155.58 0.00L157.04 0.00M151.19 -9.33L156.31 -9.33M161.42 -8.00L174.57 -8.00M161.42 -4.00L174.57 -4.00M186.98 -14.00L179.68 -4.67L190.63 -4.67M186.98 -14.00L186.98 0.00M198.67 -14.00L196.48 -13.33L195.02 -11.33L194.29 -8.00L194.29 -6.00L195.02 -2.67L196.48 -0.67L198.67 0.00L200.13 0.00L202.32 -0.67L203.78 -2.67L204.51 -6.00L204.51 -8.00L203.78 -11.33L202.32 -13.33L200.13 -14.00L198.67 -14.00M210.36 -1.33L209.62 -0.67L210.36 0.00L211.09 -0.67L210.36 -1.33M220.58 -14.00L218.39 -13.33L216.93 -11.33L216.20 -8.00L216.20 -6.00L216.93 -2.67L218.39 -0.67L220.58 0.00L222.04 0.00L224.23 -0.67L225.69 -2.67L226.42 -6.00L226.42 -8.00L225.69 -11.33L224.23 -13.33L222.04 -14.00L220.58 -14.00" fill="none" stroke="#000" stroke-width="1.0" stroke-linecap="square" stroke-linejoin="round" shape-rendering="crispEdges" />
<path transform="translate(110.60,593.50) translate(-1.50,0)" d="M1.50 -6.00L1.50 0.00M1.50 -6.00L6.75 0.00M6.75 -6.00L6.75 0.00M15.00 -4.57L14.62 -5.14L13.88 -5.72L13.12 -6.00L11.62 -6.00L10.88 -5.72L10.12 -5.14L9.75 -4.57L9.38 -3.72L9.38 -2.29L9.75 -1.43L10.12 -0.86L10.88 -0.29L11.62 0.00L13.12 0.00L13.88 -0.29L14.62 -0.86L15.00 -1.43M17.62 -6.00L17.62 0.00M17.62 -6.00L22.50 -6.00M17.62 -3.14L20.62 -3.14M17.62 0.00L22.50 0.00M24.75 -6.00L24.75 0.00M24.75 -6.00L28.12 -6.00L29.25 -5.72L29.62 -5.43L30.00 -4.86L30.00 -4.00L29.62 -3.43L29.25 -3.14L28.12 -2.86L24.75 -2.86M43.88 -4.57L43.50 -5.14L42.75 -5.72L42.00 -6.00L40.50 -6.00L39.75 -5.72L39.00 -5.14L38.62 -4.57L38.25 -3.72L38.25 -2.29L38.62 -1.43L39.00 -0.86L39.75 -0.29L40.50 0.00L42.00 0.00L42.75 -0.29L43.50 -0.86L43.88 -1.43L43.88 -2.29M42.00 -2.29L43.88 -2.29M46.50 -6.00L46.50 0.00M46.50 -6.00L51.38 -6.00M46.50 -3.14L49.50 -3.14M58.12 -5.14L57.38 -5.72L56.25 -6.00L54.75 -6.00L53.62 -5.72L52.88 -5.14L52.88 -4.57L53.25 -4.00L53.62 -3.72L54.38 -3.43L56.62 -2.86L57.38 -2.57L57.75 -2.29L58.12 -1.71L58.12 -0.86L57.38 -0.29L56.25 0.00L54.75 0.00L53.62 -0.29L52.88 -0.86M68.62 -6.00L67.50 -5.72L66.75 -4.86L66.38 -3.43L66.38 -2.57L66.75 -1.14L67.50 -0.29L68.62 0.00L69.38 0.00L70.50 -0.29L71.25 -1.14L71.62 -2.57L71.62 -3.43L71.25 -4.86L70.50 -5.72L69.38 -6.00L68.62 -6.00M74.62 -0.57L74.25 -0.29L74.62 0.00L75.00 -0.29L74.62 -0.57M82.12 -6.00L78.38 -6.00L78.00 -3.43L78.38 -3.72L79.50 -4.00L80.62 -4.00L81.75 -3.72L82.50 -3.14L82.88 -2.29L82.88 -1.71L82.50 -0.86L81.75 -0.29L80.62 0.00L79.50 0.00L78.38 -0.29L78.00 -0.57L77.62 -1.14M89.62 -6.00L89.62 0.00M89.62 -3.14L88.88 -3.72L88.12 -4.00L87.00 -4.00L86.25 -3.72L85.50 -3.14L85.12 -2.29L85.12 -1.71L85.50 -0.86L86.25 -0.29L87.00 0.00L88.12 0.00L88.88 -0.29L89.62 -0.86M92.25 -2.29L96.75 -2.29L96.75 -2.86L96.38 -3.43L96.00 -3.72L95.25 -4.00L94.12 -4.00L93.38 -3.72L92.62 -3.14L92.25 -2.29L92.25 -1.71L92.62 -0.86L93.38 -0.29L94.12 0.00L95.25 0.00L96.00 -0.29L96.75 -0.86M103.50 -4.00L103.50 0.57L103.12 1.43L102.75 1.71L102.00 2.00L100.88 2.00L100.12 1.71M103.50 -3.14L102.75 -3.72L102.00 -4.00L100.88 -4.00L100.12 -3.72L99.38 -3.14L99.00 -2.29L99.00 -1.71L99.38 -0.86L100.12 -0.29L100.88 0.00L102.00 0.00L102.75 -0.29L103.50 -0.86M106.88 -4.00L106.50 -3.72L106.88 -3.43L107.25 -3.72L106.88 -4.00M107.25 -0.29L106.88 0.00L106.50 -0.29L106.88 -0.57L107.25 -0.29L107.25 0.29L106.88 0.86L106.50 1.14M115.50 -4.00L117.75 0.00M120.00 -4.00L117.75 0.00M126.38 -4.00L126.38 0.00M126.38 -3.14L125.62 -3.72L124.88 -4.00L123.75 -4.00L123.00 -3.72L122.25 -3.14L121.88 -2.29L121.88 -1.71L122.25 -0.86L123.00 -0.29L123.75 0.00L124.88 0.00L125.62 -0.29L126.38 -0.86M129.38 -6.00L129.38 0.00M132.38 -4.00L132.38 -1.14L132.75 -0.29L133.50 0.00L134.62 0.00L135.38 -0.29L136.50 -1.14M136.50 -4.00L136.50 0.00M139.12 -2.29L143.62 -2.29L143.62 -2.86L143.25 -3.43L142.88 -3.72L142.12 -4.00L141.00 -4.00L140.25 -3.72L139.50 -3.14L139.12 -2.29L139.12 -1.71L139.50 -0.86L140.25 -0.29L141.00 0.00L142.12 0.00L142.88 -0.29L143.62 -0.86M150.00 -3.14L149.62 -3.72L148.50 -4.00L147.38 -4.00L146.25 -3.72L145.88 -3.14L146.25 -2.57L147.00 -2.29L148.88 -2.00L149.62 -1.71L150.00 -1.14L150.00 -0.86L149.62 -0.29L148.50 0.00L147.38 0.00L146.25 -0.29L145.88 -0.86M158.62 -6.00L158.62 0.00M158.62 -3.14L159.38 -3.72L160.12 -4.00L161.25 -4.00L162.00 -3.72L162.75 -3.14L163.12 -2.29L163.12 -1.71L162.75 -0.86L162.00 -0.29L161.25 0.00L160.12 0.00L159.38 -0.29L158.62 -0.86M169.88 -4.00L169.88 0.00M169.88 -3.14L169.12 -3.72L168.38 -4.00L167.25 -4.00L166.50 -3.72L165.75 -3.14L165.38 -2.29L165.38 -1.71L165.75 -0.86L166.50 -0.29L167.25 0.00L168.38 0.00L169.12 -0.29L169.88 -0.86M176.62 -3.14L176.25 -3.72L175.12 -4.00L174.00 -4.00L172.88 -3.72L172.50 -3.14L172.88 -2.57L173.62 -2.29L175.50 -2.00L176.25 -1.71L176.62 -1.14L176.62 -0.86L176.25 -0.29L175.12 0.00L174.00 0.00L172.88 -0.29L172.50 -0.86M178.88 -2.29L183.38 -2.29L183.38 -2.86L183.00 -3.43L182.62 -3.72L181.88 -4.00L180.75 -4.00L180.00 -3.72L179.25 -3.14L178.88 -2.29L178.88 -1.71L179.25 -0.86L180.00 -0.29L180.75 0.00L181.88 0.00L182.62 -0.29L183.38 -0.86M190.12 -6.00L190.12 0.00M190.12 -3.14L189.38 -3.72L188.62 -4.00L187.50 -4.00L186.75 -3.72L186.00 -3.14L185.62 -2.29L185.62 -1.71L186.00 -0.86L186.75 -0.29L187.50 0.00L188.62 0.00L189.38 -0.29L190.12 -0.86M200.62 -4.00L199.88 -3.72L199.12 -3.14L198.75 -2.29L198.75 -1.71L199.12 -0.86L199.88 -0.29L200.62 0.00L201.75 0.00L202.50 -0.29L203.25 -0.86L203.62 -1.71L203.62 -2.29L203.25 -3.14L202.50 -3.72L201.75 -4.00L200.62 -4.00M206.25 -4.00L206.25 0.00M206.25 -2.86L207.38 -3.72L208.12 -4.00L209.25 -4.00L210.00 -3.72L210.38 -2.86L210.38 0.00M223.88 -5.14L223.50 -5.72L222.38 -6.00L221.62 -6.00L220.50 -5.72L219.75 -4.86L219.38 -3.43L219.38 -2.00L219.75 -0.86L220.50 -0.29L221.62 0.00L222.00 0.00L223.12 -0.29L223.88 -0.86L224.25 -1.71L224.25 -2.00L223.88 -2.86L223.12 -3.43L222.00 -3.72L221.62 -3.72L220.50 -3.43L219.75 -2.86L219.38 -2.00M226.88 -6.00L226.88 0.00M226.88 -2.86L228.00 -3.72L228.75 -4.00L229.88 -4.00L230.62 -3.72L231.00 -2.86L231.00 0.00M232.88 -2.57L239.62 -2.57M243.75 -6.00L243.00 -6.00L242.25 -5.72L241.88 -4.86L241.88 0.00M240.75 -4.00L243.38 -4.00M247.50 -4.00L246.75 -3.72L246.00 -3.14L245.62 -2.29L245.62 -1.71L246.00 -0.86L246.75 -0.29L247.50 0.00L248.62 0.00L249.38 -0.29L250.12 -0.86L250.50 -1.71L250.50 -2.29L250.12 -3.14L249.38 -3.72L248.62 -4.00L247.50 -4.00M253.12 -4.00L253.12 0.00M253.12 -2.29L253.50 -3.14L254.25 -3.72L255.00 -4.00L256.12 -4.00M257.62 -2.29L262.12 -2.29L262.12 -2.86L261.75 -3.43L261.38 -3.72L260.62 -4.00L259.50 -4.00L258.75 -3.72L258.00 -3.14L257.62 -2.29L257.62 -1.71L258.00 -0.86L258.75 -0.29L259.50 0.00L260.62 0.00L261.38 -0.29L262.12 -0.86M268.88 -3.14L268.12 -3.72L267.38 -4.00L266.25 -4.00L265.50 -3.72L264.75 -3.14L264.38 -2.29L264.38 -1.71L264.75 -0.86L265.50 -0.29L266.25 0.00L267.38 0.00L268.12 -0.29L268.88 -0.86M275.62 -4.00L275.62 0.00M275.62 -3.14L274.88 -3.72L274.12 -4.00L273.00 -4.00L272.25 -3.72L271.50 -3.14L271.12 -2.29L271.12 -1.71L271.50 -0.86L272.25 -0.29L273.00 0.00L274.12 0.00L274.88 -0.29L275.62 -0.86M282.38 -3.14L282.00 -3.72L280.88 -4.00L279.75 -4.00L278.62 -3.72L278.25 -3.14L278.62 -2.57L279.38 -2.29L281.25 -2.00L282.00 -1.71L282.38 -1.14L282.38 -0.86L282.00 -0.29L280.88 0.00L279.75 0.00L278.62 -0.29L278.25 -0.86M285.38 -6.00L285.38 -1.14L285.75 -0.29L286.50 0.00L287.25 0.00M284.25 -4.00L286.88 -4.00M293.25 -3.14L292.88 -3.72L291.75 -4.00L290.62 -4.00L289.50 -3.72L289.12 -3.14L289.50 -2.57L290.25 -2.29L292.12 -2.00L292.88 -1.71L293.25 -1.14L293.25 -0.86L292.88 -0.29L291.75 0.00L290.62 0.00L289.50 -0.29L289.12 -0.86" fill="none" stroke="#000" stroke-width="1.0" stroke-linecap="square" stroke-linejoin="round" shape-rendering="crispEdges" />
<path transform="translate(619.20,593.50) translate(-1.49,0)" d="M4.10 -7.14L3.36 -6.57L2.61 -5.72L1.86 -4.57L1.49 -3.14L1.49 -2.00L1.86 -0.57L2.61 0.57L3.36 1.43L4.10 2.00M10.82 -3.14L10.07 -3.72L9.32 -4.00L8.21 -4.00L7.46 -3.72L6.71 -3.14L6.34 -2.29L6.34 -1.71L6.71 -0.86L7.46 -0.29L8.21 0.00L9.32 0.00L10.07 -0.29L10.82 -0.86M13.05 -7.14L13.80 -6.57L14.55 -5.72L15.29 -4.57L15.67 -3.14L15.67 -2.00L15.29 -0.57L14.55 0.57L13.80 1.43L13.05 2.00M24.62 -4.57L24.62 -4.86L24.99 -5.43L25.36 -5.72L26.11 -6.00L27.60 -6.00L28.35 -5.72L28.72 -5.43L29.09 -4.86L29.09 -4.29L28.72 -3.72L27.98 -2.86L24.25 0.00L29.47 0.00M33.94 -6.00L32.82 -5.72L32.08 -4.86L31.70 -3.43L31.70 -2.57L32.08 -1.14L32.82 -0.29L33.94 0.00L34.69 0.00L35.81 -0.29L36.55 -1.14L36.93 -2.57L36.93 -3.43L36.55 -4.86L35.81 -5.72L34.69 -6.00L33.94 -6.00M41.40 -6.00L40.28 -5.72L39.54 -4.86L39.16 -3.43L39.16 -2.57L39.54 -1.14L40.28 -0.29L41.40 0.00L42.15 0.00L43.27 -0.29L44.01 -1.14L44.39 -2.57L44.39 -3.43L44.01 -4.86L43.27 -5.72L42.15 -6.00L41.40 -6.00M51.85 -6.00L48.12 0.00M46.62 -6.00L51.85 -6.00M60.05 -4.00L61.55 0.00M63.04 -4.00L61.55 0.00M63.04 -4.00L64.53 0.00M66.02 -4.00L64.53 0.00M68.26 -4.00L69.75 0.00M71.24 -4.00L69.75 0.00M71.24 -4.00L72.73 0.00M74.23 -4.00L72.73 0.00M76.47 -4.00L77.96 0.00M79.45 -4.00L77.96 0.00M79.45 -4.00L80.94 0.00M82.43 -4.00L80.94 0.00M85.42 -0.57L85.04 -0.29L85.42 0.00L85.79 -0.29L85.42 -0.57M92.50 -3.14L92.13 -3.72L91.01 -4.00L89.89 -4.00L88.77 -3.72L88.40 -3.14L88.77 -2.57L89.52 -2.29L91.39 -2.00L92.13 -1.71L92.50 -1.14L92.50 -0.86L92.13 -0.29L91.01 0.00L89.89 0.00L88.77 -0.29L88.40 -0.86M95.11 -4.00L95.11 -1.14L95.49 -0.29L96.23 0.00L97.35 0.00L98.10 -0.29L99.22 -1.14M99.22 -4.00L99.22 0.00M102.20 -4.00L102.20 2.00M102.20 -3.14L102.95 -3.72L103.69 -4.00L104.81 -4.00L105.56 -3.72L106.30 -3.14L106.68 -2.29L106.68 -1.71L106.30 -0.86L105.56 -0.29L104.81 0.00L103.69 0.00L102.95 -0.29L102.20 -0.86M108.92 -2.29L113.39 -2.29L113.39 -2.86L113.02 -3.43L112.65 -3.72L111.90 -4.00L110.78 -4.00L110.03 -3.72L109.29 -3.14L108.92 -2.29L108.92 -1.71L109.29 -0.86L110.03 -0.29L110.78 0.00L111.90 0.00L112.65 -0.29L113.39 -0.86M116.00 -4.00L116.00 0.00M116.00 -2.29L116.38 -3.14L117.12 -3.72L117.87 -4.00L118.99 -4.00M124.58 -4.00L120.48 0.00M120.48 -4.00L124.58 -4.00M120.48 0.00L124.58 0.00M126.82 -2.29L131.30 -2.29L131.30 -2.86L130.92 -3.43L130.55 -3.72L129.80 -4.00L128.69 -4.00L127.94 -3.72L127.19 -3.14L126.82 -2.29L126.82 -1.71L127.19 -0.86L127.94 -0.29L128.69 0.00L129.80 0.00L130.55 -0.29L131.30 -0.86M133.91 -6.00L133.91 0.00M136.89 -6.00L136.89 0.00M139.50 -2.29L143.98 -2.29L143.98 -2.86L143.60 -3.43L143.23 -3.72L142.49 -4.00L141.37 -4.00L140.62 -3.72L139.88 -3.14L139.50 -2.29L139.50 -1.71L139.88 -0.86L140.62 -0.29L141.37 0.00L142.49 0.00L143.23 -0.29L143.98 -0.86M146.96 -0.57L146.59 -0.29L146.96 0.00L147.34 -0.29L146.96 -0.57M154.42 -6.00L154.42 0.00M154.42 -3.14L153.68 -3.72L152.93 -4.00L151.81 -4.00L151.06 -3.72L150.32 -3.14L149.95 -2.29L149.95 -1.71L150.32 -0.86L151.06 -0.29L151.81 0.00L152.93 0.00L153.68 -0.29L154.42 -0.86M157.03 -2.29L161.51 -2.29L161.51 -2.86L161.14 -3.43L160.76 -3.72L160.02 -4.00L158.90 -4.00L158.15 -3.72L157.41 -3.14L157.03 -2.29L157.03 -1.71L157.41 -0.86L158.15 -0.29L158.90 0.00L160.02 0.00L160.76 -0.29L161.51 -0.86" fill="none" stroke="#000" stroke-width="1.0" stroke-linecap="square" stroke-linejoin="round" shape-rendering="crispEdges" />
<path transform="translate(47.90,145.90) rotate(-90) translate(-36.29,0)" d="M4.54 -14.28L4.54 0.00M0.57 -14.28L8.50 -14.28M11.34 -10.88L11.34 -11.56L11.91 -12.92L12.47 -13.60L13.61 -14.28L15.88 -14.28L17.01 -13.60L17.58 -12.92L18.14 -11.56L18.14 -10.20L17.58 -8.84L16.44 -6.80L10.77 0.00L18.71 0.00M22.68 -9.52L22.68 0.00M22.68 -6.80L24.38 -8.84L25.51 -9.52L27.22 -9.52L28.35 -8.84L28.92 -6.80L28.92 0.00M28.92 -6.80L30.62 -8.84L31.75 -9.52L33.45 -9.52L34.59 -8.84L35.15 -6.80L35.15 0.00M48.76 -16.32L48.76 3.40M48.76 -16.32L52.73 -16.32M48.76 3.40L52.73 3.40M64.64 -10.88L64.07 -12.24L62.94 -13.60L61.80 -14.28L59.53 -14.28L58.40 -13.60L57.27 -12.24L56.70 -10.88L56.13 -8.84L56.13 -5.44L56.70 -3.40L57.27 -2.04L58.40 -0.68L59.53 0.00L61.80 0.00L62.94 -0.68L64.07 -2.04L64.64 -3.40M72.01 -16.32L72.01 3.40M68.04 -16.32L72.01 -16.32M68.04 3.40L72.01 3.40" fill="none" stroke="#000" stroke-width="2.0" stroke-linecap="square" stroke-linejoin="round" shape-rendering="crispEdges" />
<path transform="translate(48.70,304.30) rotate(-90) translate(-65.89,0)" d="M2.27 -12.18L2.27 0.00M10.22 -12.18L10.22 0.00M2.27 -6.38L10.22 -6.38M21.02 -12.18L15.34 -12.18L14.77 -6.96L15.34 -7.54L17.04 -8.12L18.74 -8.12L20.45 -7.54L21.58 -6.38L22.15 -4.64L22.15 -3.48L21.58 -1.74L20.45 -0.58L18.74 0.00L17.04 0.00L15.34 -0.58L14.77 -1.16L14.20 -2.32M28.97 -12.18L27.26 -11.60L26.13 -9.86L25.56 -6.96L25.56 -5.22L26.13 -2.32L27.26 -0.58L28.97 0.00L30.10 0.00L31.81 -0.58L32.94 -2.32L33.51 -5.22L33.51 -6.96L32.94 -9.86L31.81 -11.60L30.10 -12.18L28.97 -12.18M40.33 -12.18L38.62 -11.60L37.49 -9.86L36.92 -6.96L36.92 -5.22L37.49 -2.32L38.62 -0.58L40.33 0.00L41.46 0.00L43.17 -0.58L44.30 -2.32L44.87 -5.22L44.87 -6.96L44.30 -9.86L43.17 -11.60L41.46 -12.18L40.33 -12.18M57.94 -14.96L57.94 4.76M57.94 -14.96L61.91 -14.96M57.94 4.76L61.91 4.76M72.14 -8.12L72.14 1.16L71.57 2.90L71.00 3.48L69.86 4.06L68.16 4.06L67.02 3.48M72.14 -6.38L71.00 -7.54L69.86 -8.12L68.16 -8.12L67.02 -7.54L65.89 -6.38L65.32 -4.64L65.32 -3.48L65.89 -1.74L67.02 -0.58L68.16 0.00L69.86 0.00L71.00 -0.58L72.14 -1.74M76.68 -8.12L76.68 4.06M76.68 -6.38L77.82 -7.54L78.95 -8.12L80.66 -8.12L81.79 -7.54L82.93 -6.38L83.50 -4.64L83.50 -3.48L82.93 -1.74L81.79 -0.58L80.66 0.00L78.95 0.00L77.82 -0.58L76.68 -1.74M93.72 -12.18L93.72 0.00M93.72 -6.38L92.58 -7.54L91.45 -8.12L89.74 -8.12L88.61 -7.54L87.47 -6.38L86.90 -4.64L86.90 -3.48L87.47 -1.74L88.61 -0.58L89.74 0.00L91.45 0.00L92.58 -0.58L93.72 -1.74M104.51 -8.12L104.51 0.00M104.51 -6.38L103.38 -7.54L102.24 -8.12L100.54 -8.12L99.40 -7.54L98.26 -6.38L97.70 -4.64L97.70 -3.48L98.26 -1.74L99.40 -0.58L100.54 0.00L102.24 0.00L103.38 -0.58L104.51 -1.74M109.06 -8.12L109.06 0.00M109.06 -5.80L110.76 -7.54L111.90 -8.12L113.60 -8.12L114.74 -7.54L115.30 -5.80L115.30 0.00M115.30 -5.80L117.01 -7.54L118.14 -8.12L119.85 -8.12L120.98 -7.54L121.55 -5.80L121.55 0.00M129.50 -14.96L129.50 4.76M125.53 -14.96L129.50 -14.96M125.53 4.76L129.50 4.76" fill="none" stroke="#000" stroke-width="2.0" stroke-linecap="square" stroke-linejoin="round" shape-rendering="crispEdges" />
<path transform="translate(56.00,463.00) rotate(-90) translate(-52.35,0)" d="M2.26 -14.28L2.26 0.00M2.26 -14.28L7.36 -14.28L9.06 -13.60L9.62 -12.92L10.19 -11.56L10.19 -10.20L9.62 -8.84L9.06 -8.16L7.36 -7.48L2.26 -7.48M6.23 -7.48L10.19 0.00M14.15 -14.28L14.15 0.00M14.15 -14.28L19.24 -14.28L20.94 -13.60L21.51 -12.92L22.07 -11.56L22.07 -10.20L21.51 -8.84L20.94 -8.16L19.24 -7.48L14.15 -7.48M18.11 -7.48L22.07 0.00M32.83 -12.24L32.26 -13.60L30.56 -14.28L29.43 -14.28L27.73 -13.60L26.60 -11.56L26.04 -8.16L26.04 -4.76L26.60 -2.04L27.73 -0.68L29.43 0.00L30.00 0.00L31.70 -0.68L32.83 -2.04L33.39 -4.08L33.39 -4.76L32.83 -6.80L31.70 -8.16L30.00 -8.84L29.43 -8.84L27.73 -8.16L26.60 -6.80L26.04 -4.76M37.36 -14.28L37.36 0.00M37.36 -6.80L39.05 -8.84L40.19 -9.52L41.88 -9.52L43.02 -8.84L43.58 -6.80L43.58 0.00M57.17 -15.98L57.17 3.74M57.17 -15.98L61.13 -15.98M57.17 3.74L61.13 3.74M65.09 -9.52L65.09 0.00M65.09 -6.80L66.79 -8.84L67.92 -9.52L69.62 -9.52L70.75 -8.84L71.32 -6.80L71.32 0.00M71.32 -6.80L73.01 -8.84L74.15 -9.52L75.84 -9.52L76.98 -8.84L77.54 -6.80L77.54 0.00M82.07 -9.52L82.07 0.00M82.07 -6.80L83.77 -8.84L84.90 -9.52L86.60 -9.52L87.73 -8.84L88.30 -6.80L88.30 0.00M88.30 -6.80L89.99 -8.84L91.13 -9.52L92.82 -9.52L93.96 -8.84L94.52 -6.80L94.52 0.00M102.45 -15.98L102.45 3.74M98.48 -15.98L102.45 -15.98M98.48 3.74L102.45 3.74" fill="none" stroke="#000" stroke-width="2.0" stroke-linecap="square" stroke-linejoin="round" shape-rendering="crispEdges" />
<path transform="translate(401.70,32.70) translate(-1.48,0)" d="M3.70 -13.50L3.70 0.00M4.44 -12.86L4.44 -0.64M5.18 -13.50L5.18 0.00M1.48 -13.50L10.36 -13.50L12.58 -12.86L13.32 -12.22L14.06 -10.93L14.06 -9.00L13.32 -7.72L12.58 -7.07L10.36 -6.43L5.18 -6.43M12.58 -12.22L13.32 -10.93L13.32 -9.00L12.58 -7.72M10.36 -13.50L11.84 -12.86L12.58 -11.57L12.58 -8.36L11.84 -7.07L10.36 -6.43M1.48 0.00L7.40 0.00M2.22 -13.50L3.70 -12.86M2.96 -13.50L3.70 -12.22M5.92 -13.50L5.18 -12.22M6.66 -13.50L5.18 -12.86M3.70 -0.64L2.22 0.00M3.70 -1.29L2.96 0.00M5.18 -1.29L5.92 0.00M5.18 -0.64L6.66 0.00M19.98 -5.14L28.12 -5.14L28.12 -6.43L27.38 -7.72L26.64 -8.36L24.42 -9.00L22.94 -9.00L20.72 -8.36L19.24 -7.07L18.50 -5.14L18.50 -3.86L19.24 -1.93L20.72 -0.64L22.94 0.00L24.42 0.00L26.64 -0.64L28.12 -1.93M27.38 -5.79L27.38 -6.43L26.64 -7.72M19.98 -7.07L19.24 -5.79L19.24 -3.21L19.98 -1.93M26.64 -5.14L26.64 -7.07L25.90 -8.36L24.42 -9.00M22.94 -9.00L21.46 -8.36L20.72 -7.72L19.98 -5.79L19.98 -3.21L20.72 -1.29L21.46 -0.64L22.94 0.00M34.04 -13.50L34.04 0.00M34.78 -12.86L34.78 -0.64M31.82 -13.50L35.52 -13.50L35.52 0.00M42.18 -8.36L35.52 -2.57M38.48 -5.14L43.66 0.00M38.48 -4.50L42.92 0.00M37.74 -4.50L42.18 0.00M39.96 -9.00L45.14 -9.00M31.82 0.00L37.74 0.00M39.96 0.00L45.14 0.00M32.56 -13.50L34.04 -12.86M33.30 -13.50L34.04 -12.22M40.70 -9.00L42.18 -8.36M44.40 -9.00L42.18 -8.36M34.04 -0.64L32.56 0.00M34.04 -1.29L33.30 0.00M35.52 -1.29L36.26 0.00M35.52 -0.64L37.00 0.00M42.18 -1.29L40.70 0.00M41.44 -1.29L44.40 0.00M50.32 -13.50L50.32 -12.22L51.80 -12.22L51.80 -13.50L50.32 -13.50M51.06 -13.50L51.06 -12.22M50.32 -12.86L51.80 -12.86M50.32 -9.00L50.32 0.00M51.06 -8.36L51.06 -0.64M48.10 -9.00L51.80 -9.00L51.80 0.00M48.10 0.00L54.02 0.00M48.84 -9.00L50.32 -8.36M49.58 -9.00L50.32 -7.72M50.32 -0.64L48.84 0.00M50.32 -1.29L49.58 0.00M51.80 -1.29L52.54 0.00M51.80 -0.64L53.28 0.00M59.20 -9.00L59.20 0.00M59.94 -8.36L59.94 -0.64M56.98 -9.00L60.68 -9.00L60.68 0.00M60.68 -6.43L61.42 -7.72L62.16 -8.36L63.64 -9.00L65.86 -9.00L67.34 -8.36L68.08 -7.72L68.82 -5.79L68.82 0.00M67.34 -7.72L68.08 -5.79L68.08 -0.64M65.86 -9.00L66.60 -8.36L67.34 -6.43L67.34 0.00M56.98 0.00L62.90 0.00M65.12 0.00L71.04 0.00M57.72 -9.00L59.20 -8.36M58.46 -9.00L59.20 -7.72M59.20 -0.64L57.72 0.00M59.20 -1.29L58.46 0.00M60.68 -1.29L61.42 0.00M60.68 -0.64L62.16 0.00M67.34 -0.64L65.86 0.00M67.34 -1.29L66.60 0.00M68.82 -1.29L69.56 0.00M68.82 -0.64L70.30 0.00M83.62 -8.36L84.36 -7.72L85.10 -8.36L84.36 -9.00L83.62 -9.00L82.14 -8.36L81.40 -7.72M78.44 -9.00L76.96 -8.36L76.22 -7.72L75.48 -6.43L75.48 -5.14L76.22 -3.86L76.96 -3.21L78.44 -2.57L79.92 -2.57L81.40 -3.21L82.14 -3.86L82.88 -5.14L82.88 -6.43L82.14 -7.72L81.40 -8.36L79.92 -9.00L78.44 -9.00M76.96 -7.72L76.22 -6.43L76.22 -5.14L76.96 -3.86M81.40 -3.86L82.14 -5.14L82.14 -6.43L81.40 -7.72M78.44 -9.00L77.70 -8.36L76.96 -7.07L76.96 -4.50L77.70 -3.21L78.44 -2.57M79.92 -2.57L80.66 -3.21L81.40 -4.50L81.40 -7.07L80.66 -8.36L79.92 -9.00M76.22 -3.86L75.48 -3.21L74.74 -1.93L74.74 -1.29L75.48 0.00L76.22 0.64L78.44 1.29L81.40 1.29L83.62 1.93L84.36 2.57M76.22 0.00L78.44 0.64L81.40 0.64L83.62 1.29M74.74 -1.29L75.48 -0.64L77.70 0.00L81.40 0.00L83.62 0.64L84.36 1.93L84.36 2.57L83.62 3.86L81.40 4.50L76.96 4.50L74.74 3.86L74.00 2.57L74.00 1.93L74.74 0.64L76.96 0.00M76.96 4.50L75.48 3.86L74.74 2.57L74.74 1.93L75.48 0.64L76.96 0.00" fill="none" stroke="#000" stroke-width="1.0" stroke-linecap="square" stroke-linejoin="round" shape-rendering="crispEdges" />
</svg>
</body></html>
